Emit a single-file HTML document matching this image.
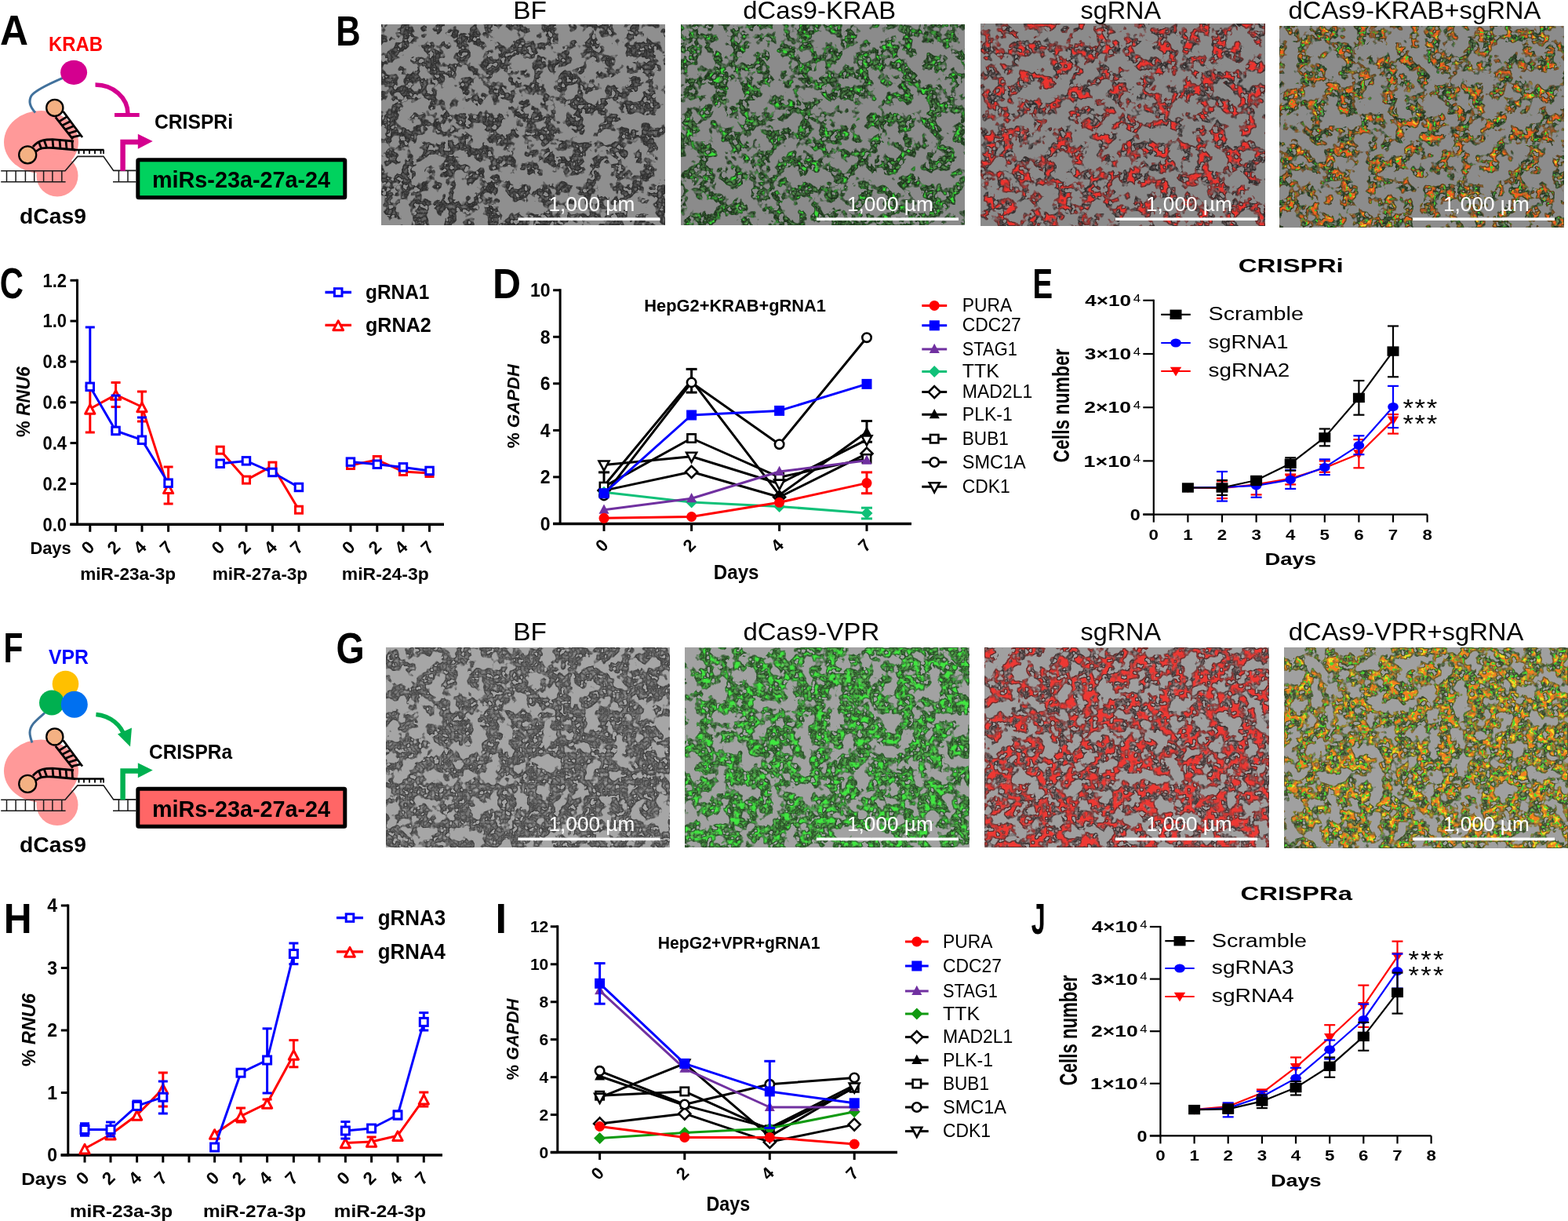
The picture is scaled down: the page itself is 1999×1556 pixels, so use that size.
<!DOCTYPE html>
<html><head><meta charset="utf-8"><style>
html,body{margin:0;padding:0;background:#fff;}
svg{display:block;}
text{font-family:"Liberation Sans", Arial, sans-serif;}
</style></head><body>
<svg width="1999" height="1556" viewBox="0 0 1999 1556">
<defs>
<filter id="m1" x="0" y="0" width="1" height="1" color-interpolation-filters="sRGB">
<feTurbulence type="fractalNoise" baseFrequency="0.055" numOctaves="3" seed="11" result="n10"/>
<feColorMatrix in="n10" type="matrix" values="1 0 0 0 0  0 1 0 0 0  0 0 1 0 0  0 0 0 0 1" result="n1o"/>
<feComposite in="n1o" in2="SourceGraphic" operator="arithmetic" k1="0" k2="1" k3="0.0" k4="-0.0" result="n1"/>
<feColorMatrix in="n1" type="matrix" values="0 0 0 0 0  0 0 0 0 0  0 0 0 0 0  12 0 0 0 -5.640" result="m1"/>
<feTurbulence type="fractalNoise" baseFrequency="0.15" numOctaves="2" seed="12" result="n2"/>
<feColorMatrix in="n2" type="matrix" values="0 0 0 0 0  0 0 0 0 0  0 0 0 0 0  14 0 0 0 -4.900" result="m2"/>
<feComposite in="m2" in2="m1" operator="in" result="m"/>
<feMorphology in="m" operator="erode" radius="1" result="me"/>
<feComposite in="m" in2="me" operator="out" result="edge"/>
<feTurbulence type="turbulence" baseFrequency="0.18" numOctaves="2" seed="18" result="fn"/>
<feColorMatrix in="fn" type="matrix" values="0.450 0 0 0 0.160  0.450 0 0 0 0.160  0.450 0 0 0 0.160  0 0 0 0 1" result="cc"/>
<feComposite in="cc" in2="m" operator="in" result="cells0"/>
<feMerge result="cells"><feMergeNode in="cells0"/></feMerge>
<feFlood flood-color="#2a2a2a" flood-opacity="0.8" result="ecol"/>
<feComposite in="ecol" in2="edge" operator="in" result="edges"/>
<feFlood flood-color="#8f8f8f" result="bg"/>
<feMerge result="all"><feMergeNode in="bg"/><feMergeNode in="cells"/><feMergeNode in="edges"/></feMerge>
<feGaussianBlur in="all" stdDeviation="0.6"/>
</filter>
<filter id="m2" x="0" y="0" width="1" height="1" color-interpolation-filters="sRGB">
<feTurbulence type="fractalNoise" baseFrequency="0.055" numOctaves="3" seed="21" result="n10"/>
<feColorMatrix in="n10" type="matrix" values="1 0 0 0 0  0 1 0 0 0  0 0 1 0 0  0 0 0 0 1" result="n1o"/>
<feComposite in="n1o" in2="SourceGraphic" operator="arithmetic" k1="0" k2="1" k3="0.0" k4="-0.0" result="n1"/>
<feColorMatrix in="n1" type="matrix" values="0 0 0 0 0  0 0 0 0 0  0 0 0 0 0  12 0 0 0 -5.640" result="m1"/>
<feTurbulence type="fractalNoise" baseFrequency="0.15" numOctaves="2" seed="22" result="n2"/>
<feColorMatrix in="n2" type="matrix" values="0 0 0 0 0  0 0 0 0 0  0 0 0 0 0  14 0 0 0 -4.900" result="m2"/>
<feComposite in="m2" in2="m1" operator="in" result="m"/>
<feMorphology in="m" operator="erode" radius="1" result="me"/>
<feComposite in="m" in2="me" operator="out" result="edge"/>
<feTurbulence type="turbulence" baseFrequency="0.18" numOctaves="2" seed="28" result="fn"/>
<feColorMatrix in="fn" type="matrix" values="0.450 0 0 0 0.090  0.750 0 0 0 0.150  0.420 0 0 0 0.084  0 0 0 0 1" result="cc"/>
<feComposite in="cc" in2="m" operator="in" result="cells0"/>
<feTurbulence type="fractalNoise" baseFrequency="0.16" numOctaves="2" seed="24" result="sp0"/>
<feColorMatrix in="sp0" type="matrix" values="0 0 0 0 0.22  0 0 0 0 0.88  0 0 0 0 0.22  7 0 0 0 -3.9" result="spc0"/>
<feComposite in="spc0" in2="m" operator="in" result="s0"/>
<feMerge result="cells"><feMergeNode in="cells0"/><feMergeNode in="s0"/></feMerge>
<feFlood flood-color="#1e3a1e" flood-opacity="0.8" result="ecol"/>
<feComposite in="ecol" in2="edge" operator="in" result="edges"/>
<feFlood flood-color="#8b8b8b" result="bg"/>
<feMerge result="all"><feMergeNode in="bg"/><feMergeNode in="cells"/><feMergeNode in="edges"/></feMerge>
<feGaussianBlur in="all" stdDeviation="0.6"/>
</filter>
<filter id="m3" x="0" y="0" width="1" height="1" color-interpolation-filters="sRGB">
<feTurbulence type="fractalNoise" baseFrequency="0.055" numOctaves="3" seed="31" result="n10"/>
<feColorMatrix in="n10" type="matrix" values="1 0 0 0 0  0 1 0 0 0  0 0 1 0 0  0 0 0 0 1" result="n1o"/>
<feComposite in="n1o" in2="SourceGraphic" operator="arithmetic" k1="0" k2="1" k3="0.0" k4="-0.0" result="n1"/>
<feColorMatrix in="n1" type="matrix" values="0 0 0 0 0  0 0 0 0 0  0 0 0 0 0  12 0 0 0 -5.640" result="m1"/>
<feTurbulence type="fractalNoise" baseFrequency="0.15" numOctaves="2" seed="32" result="n2"/>
<feColorMatrix in="n2" type="matrix" values="0 0 0 0 0  0 0 0 0 0  0 0 0 0 0  14 0 0 0 -4.900" result="m2"/>
<feComposite in="m2" in2="m1" operator="in" result="m"/>
<feMorphology in="m" operator="erode" radius="1" result="me"/>
<feComposite in="m" in2="me" operator="out" result="edge"/>
<feTurbulence type="turbulence" baseFrequency="0.18" numOctaves="2" seed="38" result="fn"/>
<feColorMatrix in="fn" type="matrix" values="0.770 0 0 0 0.154  0.665 0 0 0 0.133  0.665 0 0 0 0.133  0 0 0 0 1" result="cc"/>
<feComposite in="cc" in2="m" operator="in" result="cells0"/>
<feTurbulence type="fractalNoise" baseFrequency="0.1" numOctaves="2" seed="34" result="sp0"/>
<feColorMatrix in="sp0" type="matrix" values="0 0 0 0 0.93  0 0 0 0 0.2  0 0 0 0 0.18  6 0 0 0 -2.35" result="spc0"/>
<feComposite in="spc0" in2="m" operator="in" result="s0"/>
<feMerge result="cells"><feMergeNode in="cells0"/><feMergeNode in="s0"/></feMerge>
<feFlood flood-color="#2a2a2a" flood-opacity="0.8" result="ecol"/>
<feComposite in="ecol" in2="edge" operator="in" result="edges"/>
<feFlood flood-color="#8b8b8b" result="bg"/>
<feMerge result="all"><feMergeNode in="bg"/><feMergeNode in="cells"/><feMergeNode in="edges"/></feMerge>
<feGaussianBlur in="all" stdDeviation="0.6"/>
</filter>
<filter id="m4" x="0" y="0" width="1" height="1" color-interpolation-filters="sRGB">
<feTurbulence type="fractalNoise" baseFrequency="0.055" numOctaves="3" seed="41" result="n10"/>
<feColorMatrix in="n10" type="matrix" values="1 0 0 0 0  0 1 0 0 0  0 0 1 0 0  0 0 0 0 1" result="n1o"/>
<feComposite in="n1o" in2="SourceGraphic" operator="arithmetic" k1="0" k2="1" k3="0.0" k4="-0.0" result="n1"/>
<feColorMatrix in="n1" type="matrix" values="0 0 0 0 0  0 0 0 0 0  0 0 0 0 0  12 0 0 0 -5.640" result="m1"/>
<feTurbulence type="fractalNoise" baseFrequency="0.15" numOctaves="2" seed="42" result="n2"/>
<feColorMatrix in="n2" type="matrix" values="0 0 0 0 0  0 0 0 0 0  0 0 0 0 0  14 0 0 0 -4.900" result="m2"/>
<feComposite in="m2" in2="m1" operator="in" result="m"/>
<feMorphology in="m" operator="erode" radius="1" result="me"/>
<feComposite in="m" in2="me" operator="out" result="edge"/>
<feTurbulence type="turbulence" baseFrequency="0.18" numOctaves="2" seed="48" result="fn"/>
<feColorMatrix in="fn" type="matrix" values="0.510 0 0 0 0.111  0.690 0 0 0 0.149  0.450 0 0 0 0.098  0 0 0 0 1" result="cc"/>
<feComposite in="cc" in2="m" operator="in" result="cells0"/>
<feTurbulence type="fractalNoise" baseFrequency="0.11" numOctaves="2" seed="44" result="sp0"/>
<feColorMatrix in="sp0" type="matrix" values="0 0 0 0 0.95  0 0 0 0 0.38  0 0 0 0 0.12  6 0 0 0 -2.45" result="spc0"/>
<feComposite in="spc0" in2="m" operator="in" result="s0"/>
<feTurbulence type="fractalNoise" baseFrequency="0.2" numOctaves="2" seed="49" result="sp1"/>
<feColorMatrix in="sp1" type="matrix" values="0 0 0 0 0.92  0 0 0 0 0.8  0 0 0 0 0.15  9 0 0 0 -5.3" result="spc1"/>
<feComposite in="spc1" in2="s0" operator="in" result="s1"/>
<feTurbulence type="fractalNoise" baseFrequency="0.25" numOctaves="2" seed="54" result="sp2"/>
<feColorMatrix in="sp2" type="matrix" values="0 0 0 0 0.25  0 0 0 0 0.85  0 0 0 0 0.2  9 0 0 0 -5.5" result="spc2"/>
<feComposite in="spc2" in2="m" operator="in" result="s2"/>
<feMerge result="cells"><feMergeNode in="cells0"/><feMergeNode in="s0"/><feMergeNode in="s1"/><feMergeNode in="s2"/></feMerge>
<feFlood flood-color="#263a22" flood-opacity="0.8" result="ecol"/>
<feComposite in="ecol" in2="edge" operator="in" result="edges"/>
<feFlood flood-color="#8c8c8c" result="bg"/>
<feMerge result="all"><feMergeNode in="bg"/><feMergeNode in="cells"/><feMergeNode in="edges"/></feMerge>
<feGaussianBlur in="all" stdDeviation="0.6"/>
</filter>
<filter id="m5" x="0" y="0" width="1" height="1" color-interpolation-filters="sRGB">
<feTurbulence type="fractalNoise" baseFrequency="0.055" numOctaves="3" seed="51" result="n10"/>
<feColorMatrix in="n10" type="matrix" values="1 0 0 0 0  0 1 0 0 0  0 0 1 0 0  0 0 0 0 1" result="n1o"/>
<feComposite in="n1o" in2="SourceGraphic" operator="arithmetic" k1="0" k2="1" k3="0.3" k4="-0.15" result="n1"/>
<feColorMatrix in="n1" type="matrix" values="0 0 0 0 0  0 0 0 0 0  0 0 0 0 0  12 0 0 0 -5.040" result="m1"/>
<feTurbulence type="fractalNoise" baseFrequency="0.15" numOctaves="2" seed="52" result="n2"/>
<feColorMatrix in="n2" type="matrix" values="0 0 0 0 0  0 0 0 0 0  0 0 0 0 0  14 0 0 0 -4.340" result="m2"/>
<feComposite in="m2" in2="m1" operator="in" result="m"/>
<feMorphology in="m" operator="erode" radius="1" result="me"/>
<feComposite in="m" in2="me" operator="out" result="edge"/>
<feTurbulence type="turbulence" baseFrequency="0.2" numOctaves="2" seed="58" result="fn"/>
<feColorMatrix in="fn" type="matrix" values="0.500 0 0 0 0.270  0.500 0 0 0 0.270  0.500 0 0 0 0.270  0 0 0 0 1" result="cc"/>
<feComposite in="cc" in2="m" operator="in" result="cells0"/>
<feMerge result="cells"><feMergeNode in="cells0"/></feMerge>
<feFlood flood-color="#3a3a3a" flood-opacity="0.8" result="ecol"/>
<feComposite in="ecol" in2="edge" operator="in" result="edges"/>
<feFlood flood-color="#a6a6a6" result="bg"/>
<feMerge result="all"><feMergeNode in="bg"/><feMergeNode in="cells"/><feMergeNode in="edges"/></feMerge>
<feGaussianBlur in="all" stdDeviation="0.6"/>
</filter>
<linearGradient id="gm5" x1="0" y1="0" x2="1" y2="0.4"><stop offset="0" stop-color="rgb(76,76,76)"/><stop offset="0.35" stop-color="rgb(127,127,127)"/><stop offset="1" stop-color="rgb(153,153,153)"/></linearGradient>
<filter id="m6" x="0" y="0" width="1" height="1" color-interpolation-filters="sRGB">
<feTurbulence type="fractalNoise" baseFrequency="0.055" numOctaves="3" seed="61" result="n10"/>
<feColorMatrix in="n10" type="matrix" values="1 0 0 0 0  0 1 0 0 0  0 0 1 0 0  0 0 0 0 1" result="n1o"/>
<feComposite in="n1o" in2="SourceGraphic" operator="arithmetic" k1="0" k2="1" k3="0.3" k4="-0.15" result="n1"/>
<feColorMatrix in="n1" type="matrix" values="0 0 0 0 0  0 0 0 0 0  0 0 0 0 0  12 0 0 0 -5.040" result="m1"/>
<feTurbulence type="fractalNoise" baseFrequency="0.15" numOctaves="2" seed="62" result="n2"/>
<feColorMatrix in="n2" type="matrix" values="0 0 0 0 0  0 0 0 0 0  0 0 0 0 0  14 0 0 0 -4.340" result="m2"/>
<feComposite in="m2" in2="m1" operator="in" result="m"/>
<feMorphology in="m" operator="erode" radius="1" result="me"/>
<feComposite in="m" in2="me" operator="out" result="edge"/>
<feTurbulence type="turbulence" baseFrequency="0.2" numOctaves="2" seed="68" result="fn"/>
<feColorMatrix in="fn" type="matrix" values="0.420 0 0 0 0.140  0.810 0 0 0 0.270  0.390 0 0 0 0.130  0 0 0 0 1" result="cc"/>
<feComposite in="cc" in2="m" operator="in" result="cells0"/>
<feTurbulence type="fractalNoise" baseFrequency="0.14" numOctaves="2" seed="64" result="sp0"/>
<feColorMatrix in="sp0" type="matrix" values="0 0 0 0 0.25  0 0 0 0 0.9  0 0 0 0 0.25  6 0 0 0 -2.9" result="spc0"/>
<feComposite in="spc0" in2="m" operator="in" result="s0"/>
<feMerge result="cells"><feMergeNode in="cells0"/><feMergeNode in="s0"/></feMerge>
<feFlood flood-color="#2a4a2a" flood-opacity="0.8" result="ecol"/>
<feComposite in="ecol" in2="edge" operator="in" result="edges"/>
<feFlood flood-color="#a2a2a2" result="bg"/>
<feMerge result="all"><feMergeNode in="bg"/><feMergeNode in="cells"/><feMergeNode in="edges"/></feMerge>
<feGaussianBlur in="all" stdDeviation="0.6"/>
</filter>
<linearGradient id="gm6" x1="0" y1="0" x2="1" y2="0.4"><stop offset="0" stop-color="rgb(89,89,89)"/><stop offset="0.4" stop-color="rgb(140,140,140)"/><stop offset="1" stop-color="rgb(140,140,140)"/></linearGradient>
<filter id="m7" x="0" y="0" width="1" height="1" color-interpolation-filters="sRGB">
<feTurbulence type="fractalNoise" baseFrequency="0.055" numOctaves="3" seed="71" result="n10"/>
<feColorMatrix in="n10" type="matrix" values="1 0 0 0 0  0 1 0 0 0  0 0 1 0 0  0 0 0 0 1" result="n1o"/>
<feComposite in="n1o" in2="SourceGraphic" operator="arithmetic" k1="0" k2="1" k3="0.3" k4="-0.15" result="n1"/>
<feColorMatrix in="n1" type="matrix" values="0 0 0 0 0  0 0 0 0 0  0 0 0 0 0  12 0 0 0 -5.040" result="m1"/>
<feTurbulence type="fractalNoise" baseFrequency="0.15" numOctaves="2" seed="72" result="n2"/>
<feColorMatrix in="n2" type="matrix" values="0 0 0 0 0  0 0 0 0 0  0 0 0 0 0  14 0 0 0 -4.340" result="m2"/>
<feComposite in="m2" in2="m1" operator="in" result="m"/>
<feMorphology in="m" operator="erode" radius="1" result="me"/>
<feComposite in="m" in2="me" operator="out" result="edge"/>
<feTurbulence type="turbulence" baseFrequency="0.2" numOctaves="2" seed="78" result="fn"/>
<feColorMatrix in="fn" type="matrix" values="0.770 0 0 0 0.220  0.665 0 0 0 0.190  0.665 0 0 0 0.190  0 0 0 0 1" result="cc"/>
<feComposite in="cc" in2="m" operator="in" result="cells0"/>
<feTurbulence type="fractalNoise" baseFrequency="0.1" numOctaves="2" seed="74" result="sp0"/>
<feColorMatrix in="sp0" type="matrix" values="0 0 0 0 0.93  0 0 0 0 0.22  0 0 0 0 0.2  6 0 0 0 -2.3" result="spc0"/>
<feComposite in="spc0" in2="m" operator="in" result="s0"/>
<feMerge result="cells"><feMergeNode in="cells0"/><feMergeNode in="s0"/></feMerge>
<feFlood flood-color="#3a2a2a" flood-opacity="0.8" result="ecol"/>
<feComposite in="ecol" in2="edge" operator="in" result="edges"/>
<feFlood flood-color="#a0a0a0" result="bg"/>
<feMerge result="all"><feMergeNode in="bg"/><feMergeNode in="cells"/><feMergeNode in="edges"/></feMerge>
<feGaussianBlur in="all" stdDeviation="0.6"/>
</filter>
<linearGradient id="gm7" x1="0" y1="0" x2="1" y2="0.4"><stop offset="0" stop-color="rgb(89,89,89)"/><stop offset="0.4" stop-color="rgb(140,140,140)"/><stop offset="1" stop-color="rgb(140,140,140)"/></linearGradient>
<filter id="m8" x="0" y="0" width="1" height="1" color-interpolation-filters="sRGB">
<feTurbulence type="fractalNoise" baseFrequency="0.055" numOctaves="3" seed="81" result="n10"/>
<feColorMatrix in="n10" type="matrix" values="1 0 0 0 0  0 1 0 0 0  0 0 1 0 0  0 0 0 0 1" result="n1o"/>
<feComposite in="n1o" in2="SourceGraphic" operator="arithmetic" k1="0" k2="1" k3="0.3" k4="-0.15" result="n1"/>
<feColorMatrix in="n1" type="matrix" values="0 0 0 0 0  0 0 0 0 0  0 0 0 0 0  12 0 0 0 -5.040" result="m1"/>
<feTurbulence type="fractalNoise" baseFrequency="0.15" numOctaves="2" seed="82" result="n2"/>
<feColorMatrix in="n2" type="matrix" values="0 0 0 0 0  0 0 0 0 0  0 0 0 0 0  14 0 0 0 -4.340" result="m2"/>
<feComposite in="m2" in2="m1" operator="in" result="m"/>
<feMorphology in="m" operator="erode" radius="1" result="me"/>
<feComposite in="m" in2="me" operator="out" result="edge"/>
<feTurbulence type="turbulence" baseFrequency="0.2" numOctaves="2" seed="88" result="fn"/>
<feColorMatrix in="fn" type="matrix" values="0.540 0 0 0 0.180  0.660 0 0 0 0.220  0.420 0 0 0 0.140  0 0 0 0 1" result="cc"/>
<feComposite in="cc" in2="m" operator="in" result="cells0"/>
<feTurbulence type="fractalNoise" baseFrequency="0.11" numOctaves="2" seed="84" result="sp0"/>
<feColorMatrix in="sp0" type="matrix" values="0 0 0 0 0.95  0 0 0 0 0.5  0 0 0 0 0.12  6 0 0 0 -2.5" result="spc0"/>
<feComposite in="spc0" in2="m" operator="in" result="s0"/>
<feTurbulence type="fractalNoise" baseFrequency="0.18" numOctaves="2" seed="89" result="sp1"/>
<feColorMatrix in="sp1" type="matrix" values="0 0 0 0 0.95  0 0 0 0 0.88  0 0 0 0 0.15  7 0 0 0 -3.6" result="spc1"/>
<feComposite in="spc1" in2="s0" operator="in" result="s1"/>
<feTurbulence type="fractalNoise" baseFrequency="0.25" numOctaves="2" seed="94" result="sp2"/>
<feColorMatrix in="sp2" type="matrix" values="0 0 0 0 0.3  0 0 0 0 0.85  0 0 0 0 0.2  9 0 0 0 -5.2" result="spc2"/>
<feComposite in="spc2" in2="m" operator="in" result="s2"/>
<feMerge result="cells"><feMergeNode in="cells0"/><feMergeNode in="s0"/><feMergeNode in="s1"/><feMergeNode in="s2"/></feMerge>
<feFlood flood-color="#3a4a2a" flood-opacity="0.8" result="ecol"/>
<feComposite in="ecol" in2="edge" operator="in" result="edges"/>
<feFlood flood-color="#a0a0a0" result="bg"/>
<feMerge result="all"><feMergeNode in="bg"/><feMergeNode in="cells"/><feMergeNode in="edges"/></feMerge>
<feGaussianBlur in="all" stdDeviation="0.6"/>
</filter>
<linearGradient id="gm8" x1="0" y1="0" x2="1" y2="0.4"><stop offset="0" stop-color="rgb(76,76,76)"/><stop offset="0.4" stop-color="rgb(140,140,140)"/><stop offset="1" stop-color="rgb(153,153,153)"/></linearGradient>
</defs>
<rect width="1999" height="1556" fill="#fff"/>
<text x="-0.08" y="56.90" font-size="53.76" font-weight="bold" textLength="36.03" lengthAdjust="spacingAndGlyphs" >A</text>
<text x="428.28" y="58.00" font-size="53.48" font-weight="bold" textLength="31.43" lengthAdjust="spacingAndGlyphs" >B</text>
<text x="4.45" y="844.00" font-size="54.04" font-weight="bold" textLength="24.88" lengthAdjust="spacingAndGlyphs" >F</text>
<text x="428.55" y="845.00" font-size="55.47" font-weight="bold" textLength="36.20" lengthAdjust="spacingAndGlyphs" >G</text>
<ellipse cx="52.5" cy="181.0" rx="47.5" ry="40" fill="#ff9999"/>
<circle cx="73" cy="224.0" r="26.5" fill="#ff9999"/>
<path d="M1.2,217.7 H83 L98.9,199.4 H131.9 L144.7,217.4 H173.4" fill="none" stroke="#1a1a1a" stroke-width="1.6"/>
<path d="M1.2,231.8 H83.6 M144,231.8 H173.4" fill="none" stroke="#1a1a1a" stroke-width="1.6"/>
<line x1="8.5" y1="217.7" x2="8.5" y2="231.8" stroke="#1a1a1a" stroke-width="1.5" />
<line x1="20.1" y1="217.7" x2="20.1" y2="231.8" stroke="#1a1a1a" stroke-width="1.5" />
<line x1="32.4" y1="217.7" x2="32.4" y2="231.8" stroke="#1a1a1a" stroke-width="1.5" />
<line x1="43.7" y1="217.7" x2="43.7" y2="231.8" stroke="#1a1a1a" stroke-width="1.5" />
<line x1="55.6" y1="217.7" x2="55.6" y2="231.8" stroke="#1a1a1a" stroke-width="1.5" />
<line x1="66.9" y1="217.7" x2="66.9" y2="231.8" stroke="#1a1a1a" stroke-width="1.5" />
<line x1="78.8" y1="217.7" x2="78.8" y2="231.8" stroke="#1a1a1a" stroke-width="1.5" />
<line x1="151.4" y1="217.7" x2="151.4" y2="231.8" stroke="#1a1a1a" stroke-width="1.5" />
<line x1="163.0" y1="217.7" x2="163.0" y2="231.8" stroke="#1a1a1a" stroke-width="1.5" />
<path d="M94,191.0 H132.5" stroke="#000" stroke-width="2.6" fill="none"/>
<line x1="100.5" y1="191.0" x2="100.5" y2="196.0" stroke="#000" stroke-width="1.8" />
<line x1="107.0" y1="191.0" x2="107.0" y2="196.0" stroke="#000" stroke-width="1.8" />
<line x1="114.0" y1="191.0" x2="114.0" y2="196.0" stroke="#000" stroke-width="1.8" />
<line x1="121.0" y1="191.0" x2="121.0" y2="196.0" stroke="#000" stroke-width="1.8" />
<line x1="128.5" y1="191.0" x2="128.5" y2="196.0" stroke="#000" stroke-width="1.8" />
<line x1="132.0" y1="191.0" x2="132.0" y2="196.0" stroke="#000" stroke-width="1.8" />
<path d="M42,187.0 C50,178.0 58,177.5 70,177.8 L94,180.0" fill="none" stroke="#000" stroke-width="2.8"/>
<path d="M46,193.0 C52,187.0 58,188.5 68,188.5 L96,191.0" fill="none" stroke="#000" stroke-width="2.8"/>
<line x1="49.0" y1="180.0" x2="53.0" y2="190.0" stroke="#000" stroke-width="2.8" />
<line x1="56.0" y1="178.0" x2="60.0" y2="189.0" stroke="#000" stroke-width="2.8" />
<line x1="67.0" y1="178.0" x2="68.0" y2="189.0" stroke="#000" stroke-width="2.8" />
<line x1="76.0" y1="178.5" x2="77.0" y2="189.5" stroke="#000" stroke-width="2.8" />
<line x1="84.0" y1="179.0" x2="85.0" y2="190.0" stroke="#000" stroke-width="2.8" />
<line x1="92.0" y1="180.0" x2="92.5" y2="191.0" stroke="#000" stroke-width="2.8" />
<path d="M70.8,149.4 L92.8,177.4" stroke="#000" stroke-width="2.8"/>
<path d="M80.6,142.0 L105,175.0" stroke="#000" stroke-width="2.8"/>
<line x1="75.2" y1="155.0" x2="85.5" y2="148.6" stroke="#000" stroke-width="2.8" />
<line x1="79.2" y1="160.0" x2="89.9" y2="154.5" stroke="#000" stroke-width="2.8" />
<line x1="83.1" y1="165.1" x2="94.3" y2="160.5" stroke="#000" stroke-width="2.8" />
<line x1="87.1" y1="170.1" x2="98.7" y2="166.4" stroke="#000" stroke-width="2.8" />
<line x1="91.0" y1="175.2" x2="103.0" y2="172.4" stroke="#000" stroke-width="2.8" />
<circle cx="69.8" cy="137.4" r="10.6" fill="#f4b183" stroke="#000" stroke-width="2.3"/>
<circle cx="35.2" cy="197.4" r="11" fill="#f4b183" stroke="#000" stroke-width="2.3"/>
<path d="M80,99.3 C62,107.0 44,116.0 40,122.0 C36,129.0 38,136.0 45,143.5" fill="none" stroke="#41719c" stroke-width="3"/>
<ellipse cx="94.1" cy="92.3" rx="17" ry="15.6" fill="#d4008f"/>
<path d="M121.5,108.0 A41.5,37 0 0 1 163,145.0" fill="none" stroke="#d4008f" stroke-width="5.5"/>
<rect x="146" y="144.0" width="31.7" height="5" fill="#d4008f"/>
<text x="62.0" y="65.0" font-size="25" font-weight="bold" fill="#ff0000" textLength="69.0" lengthAdjust="spacingAndGlyphs" >KRAB</text>
<text x="197.0" y="164.0" font-size="26" font-weight="bold" textLength="100.0" lengthAdjust="spacingAndGlyphs" >CRISPRi</text>
<path d="M156.6,217.7 V181.0 H177" fill="none" stroke="#d4008f" stroke-width="6.5"/>
<path d="M175.8,170.7 L194.7,179.9 L175.8,189.7 Z" fill="#d4008f"/>
<rect x="175.8" y="203.7" width="264" height="48" fill="#00d25e" stroke="#000" stroke-width="5" rx="1"/>
<text x="194.0" y="239.0" font-size="30" font-weight="bold" textLength="227.0" lengthAdjust="spacingAndGlyphs" >miRs-23a-27a-24</text>
<text x="25.0" y="284.5" font-size="28" font-weight="bold" textLength="85.0" lengthAdjust="spacingAndGlyphs" >dCas9</text>
<ellipse cx="52.5" cy="982.5" rx="47.5" ry="40" fill="#ff9999"/>
<circle cx="73" cy="1025.5" r="26.5" fill="#ff9999"/>
<path d="M1.2,1019.2 H83 L98.9,1000.9 H131.9 L144.7,1018.9 H173.4" fill="none" stroke="#1a1a1a" stroke-width="1.6"/>
<path d="M1.2,1033.3 H83.6 M144,1033.3 H173.4" fill="none" stroke="#1a1a1a" stroke-width="1.6"/>
<line x1="8.5" y1="1019.2" x2="8.5" y2="1033.3" stroke="#1a1a1a" stroke-width="1.5" />
<line x1="20.1" y1="1019.2" x2="20.1" y2="1033.3" stroke="#1a1a1a" stroke-width="1.5" />
<line x1="32.4" y1="1019.2" x2="32.4" y2="1033.3" stroke="#1a1a1a" stroke-width="1.5" />
<line x1="43.7" y1="1019.2" x2="43.7" y2="1033.3" stroke="#1a1a1a" stroke-width="1.5" />
<line x1="55.6" y1="1019.2" x2="55.6" y2="1033.3" stroke="#1a1a1a" stroke-width="1.5" />
<line x1="66.9" y1="1019.2" x2="66.9" y2="1033.3" stroke="#1a1a1a" stroke-width="1.5" />
<line x1="78.8" y1="1019.2" x2="78.8" y2="1033.3" stroke="#1a1a1a" stroke-width="1.5" />
<line x1="151.4" y1="1019.2" x2="151.4" y2="1033.3" stroke="#1a1a1a" stroke-width="1.5" />
<line x1="163.0" y1="1019.2" x2="163.0" y2="1033.3" stroke="#1a1a1a" stroke-width="1.5" />
<path d="M94,992.5 H132.5" stroke="#000" stroke-width="2.6" fill="none"/>
<line x1="100.5" y1="992.5" x2="100.5" y2="997.5" stroke="#000" stroke-width="1.8" />
<line x1="107.0" y1="992.5" x2="107.0" y2="997.5" stroke="#000" stroke-width="1.8" />
<line x1="114.0" y1="992.5" x2="114.0" y2="997.5" stroke="#000" stroke-width="1.8" />
<line x1="121.0" y1="992.5" x2="121.0" y2="997.5" stroke="#000" stroke-width="1.8" />
<line x1="128.5" y1="992.5" x2="128.5" y2="997.5" stroke="#000" stroke-width="1.8" />
<line x1="132.0" y1="992.5" x2="132.0" y2="997.5" stroke="#000" stroke-width="1.8" />
<path d="M42,988.5 C50,979.5 58,979.0 70,979.3 L94,981.5" fill="none" stroke="#000" stroke-width="2.8"/>
<path d="M46,994.5 C52,988.5 58,990.0 68,990.0 L96,992.5" fill="none" stroke="#000" stroke-width="2.8"/>
<line x1="49.0" y1="981.5" x2="53.0" y2="991.5" stroke="#000" stroke-width="2.8" />
<line x1="56.0" y1="979.5" x2="60.0" y2="990.5" stroke="#000" stroke-width="2.8" />
<line x1="67.0" y1="979.5" x2="68.0" y2="990.5" stroke="#000" stroke-width="2.8" />
<line x1="76.0" y1="980.0" x2="77.0" y2="991.0" stroke="#000" stroke-width="2.8" />
<line x1="84.0" y1="980.5" x2="85.0" y2="991.5" stroke="#000" stroke-width="2.8" />
<line x1="92.0" y1="981.5" x2="92.5" y2="992.5" stroke="#000" stroke-width="2.8" />
<path d="M70.8,950.9 L92.8,978.9" stroke="#000" stroke-width="2.8"/>
<path d="M80.6,943.5 L105,976.5" stroke="#000" stroke-width="2.8"/>
<line x1="75.2" y1="956.5" x2="85.5" y2="950.1" stroke="#000" stroke-width="2.8" />
<line x1="79.2" y1="961.5" x2="89.9" y2="956.0" stroke="#000" stroke-width="2.8" />
<line x1="83.1" y1="966.6" x2="94.3" y2="962.0" stroke="#000" stroke-width="2.8" />
<line x1="87.1" y1="971.6" x2="98.7" y2="967.9" stroke="#000" stroke-width="2.8" />
<line x1="91.0" y1="976.7" x2="103.0" y2="973.9" stroke="#000" stroke-width="2.8" />
<circle cx="69.8" cy="938.9" r="10.6" fill="#f4b183" stroke="#000" stroke-width="2.3"/>
<circle cx="35.2" cy="998.9" r="11" fill="#f4b183" stroke="#000" stroke-width="2.3"/>
<path d="M57,1709.5" />
<path d="M57,908.5 C48,916.5 38,923.5 38,933.5 C38,938.5 40,943.5 41,946.5" fill="none" stroke="#41719c" stroke-width="3"/>
<circle cx="83.5" cy="871.5" r="16.8" fill="#ffc000"/>
<circle cx="66" cy="895.5" r="16" fill="#00b050"/>
<circle cx="94.8" cy="897.7" r="17" fill="#0070f0"/>
<path d="M122.4,910.5 A42,38 0 0 1 159,939.5" fill="none" stroke="#00b050" stroke-width="5.5"/>
<path d="M150,935.5 L168,927.5 L166,951.5 Z" fill="#00b050"/>
<text x="62.0" y="845.5" font-size="25" font-weight="bold" fill="#0000ff" textLength="51.0" lengthAdjust="spacingAndGlyphs" >VPR</text>
<text x="190.0" y="966.5" font-size="26" font-weight="bold" textLength="106.0" lengthAdjust="spacingAndGlyphs" >CRISPRa</text>
<path d="M156.6,1019.2 V982.5 H177" fill="none" stroke="#00b050" stroke-width="6.5"/>
<path d="M175.8,972.2 L194.7,981.4 L175.8,991.2 Z" fill="#00b050"/>
<rect x="175.8" y="1005.2" width="264" height="48" fill="#ff6666" stroke="#000" stroke-width="5" rx="1"/>
<text x="194.0" y="1040.5" font-size="30" font-weight="bold" textLength="227.0" lengthAdjust="spacingAndGlyphs" >miRs-23a-27a-24</text>
<text x="25.0" y="1086.0" font-size="28" font-weight="bold" textLength="85.0" lengthAdjust="spacingAndGlyphs" >dCas9</text>
<rect x="486" y="31.2" width="362.0" height="255.6" fill="#808080" filter="url(#m1)"/>
<rect x="660.5" y="277.4" width="181" height="3.6" fill="#fff"/>
<text x="699.46" y="268.60" font-size="25.60" fill="#fff" textLength="109.79" lengthAdjust="spacingAndGlyphs" >1,000 µm</text>
<rect x="868" y="31.2" width="361.7" height="255.6" fill="#808080" filter="url(#m2)"/>
<rect x="1041.0" y="277.4" width="181" height="3.6" fill="#fff"/>
<text x="1079.96" y="268.60" font-size="25.60" fill="#fff" textLength="109.79" lengthAdjust="spacingAndGlyphs" >1,000 µm</text>
<rect x="1250" y="30.8" width="362.7" height="256.9" fill="#808080" filter="url(#m3)"/>
<rect x="1422.0" y="277.4" width="181" height="3.6" fill="#fff"/>
<text x="1460.96" y="268.60" font-size="25.60" fill="#fff" textLength="109.79" lengthAdjust="spacingAndGlyphs" >1,000 µm</text>
<rect x="1631.1" y="33.5" width="362.9" height="256.2" fill="#808080" filter="url(#m4)"/>
<rect x="1801.0" y="277.4" width="181" height="3.6" fill="#fff"/>
<text x="1839.96" y="268.60" font-size="25.60" fill="#fff" textLength="109.79" lengthAdjust="spacingAndGlyphs" >1,000 µm</text>
<rect x="492" y="825.6" width="361.7" height="254.1" fill="url(#gm5)" filter="url(#m5)"/>
<rect x="660.5" y="1067.5" width="181" height="3.6" fill="#fff"/>
<text x="699.46" y="1058.70" font-size="25.60" fill="#fff" textLength="109.79" lengthAdjust="spacingAndGlyphs" >1,000 µm</text>
<rect x="873" y="825.6" width="362.4" height="254.1" fill="url(#gm6)" filter="url(#m6)"/>
<rect x="1041.0" y="1067.5" width="181" height="3.6" fill="#fff"/>
<text x="1079.96" y="1058.70" font-size="25.60" fill="#fff" textLength="109.79" lengthAdjust="spacingAndGlyphs" >1,000 µm</text>
<rect x="1255" y="825.6" width="362.7" height="254.4" fill="url(#gm7)" filter="url(#m7)"/>
<rect x="1422.0" y="1067.5" width="181" height="3.6" fill="#fff"/>
<text x="1460.96" y="1058.70" font-size="25.60" fill="#fff" textLength="109.79" lengthAdjust="spacingAndGlyphs" >1,000 µm</text>
<rect x="1637" y="825.6" width="362.0" height="255.2" fill="url(#gm8)" filter="url(#m8)"/>
<rect x="1801.0" y="1067.5" width="181" height="3.6" fill="#fff"/>
<text x="1839.96" y="1058.70" font-size="25.60" fill="#fff" textLength="109.79" lengthAdjust="spacingAndGlyphs" >1,000 µm</text>
<text x="654.29" y="23.90" font-size="30.50" textLength="42.70" lengthAdjust="spacingAndGlyphs" >BF</text>
<text x="947.28" y="23.90" font-size="30.50" textLength="194.90" lengthAdjust="spacingAndGlyphs" >dCas9-KRAB</text>
<text x="1377.49" y="23.90" font-size="30.50" textLength="102.65" lengthAdjust="spacingAndGlyphs" >sgRNA</text>
<text x="1642.47" y="23.90" font-size="30.50" textLength="321.97" lengthAdjust="spacingAndGlyphs" >dCAs9-KRAB+sgRNA</text>
<text x="654.29" y="816.30" font-size="30.50" textLength="42.70" lengthAdjust="spacingAndGlyphs" >BF</text>
<text x="947.47" y="816.30" font-size="30.50" textLength="173.87" lengthAdjust="spacingAndGlyphs" >dCas9-VPR</text>
<text x="1377.49" y="816.30" font-size="30.50" textLength="102.65" lengthAdjust="spacingAndGlyphs" >sgRNA</text>
<text x="1642.78" y="816.30" font-size="30.50" textLength="299.56" lengthAdjust="spacingAndGlyphs" >dCAs9-VPR+sgRNA</text>
<line x1="98.5" y1="355.8" x2="98.5" y2="669.8" stroke="#000" stroke-width="3" />
<line x1="89.5" y1="668.3" x2="98.5" y2="668.3" stroke="#000" stroke-width="3" />
<text x="85.0" y="676.5" font-size="23" font-weight="bold" text-anchor="end" textLength="30.5" lengthAdjust="spacingAndGlyphs" >0.0</text>
<line x1="89.5" y1="616.5" x2="98.5" y2="616.5" stroke="#000" stroke-width="3" />
<text x="85.0" y="624.7" font-size="23" font-weight="bold" text-anchor="end" textLength="30.5" lengthAdjust="spacingAndGlyphs" >0.2</text>
<line x1="89.5" y1="564.6" x2="98.5" y2="564.6" stroke="#000" stroke-width="3" />
<text x="85.0" y="572.9" font-size="23" font-weight="bold" text-anchor="end" textLength="30.5" lengthAdjust="spacingAndGlyphs" >0.4</text>
<line x1="89.5" y1="512.8" x2="98.5" y2="512.8" stroke="#000" stroke-width="3" />
<text x="85.0" y="521.0" font-size="23" font-weight="bold" text-anchor="end" textLength="30.5" lengthAdjust="spacingAndGlyphs" >0.6</text>
<line x1="89.5" y1="460.9" x2="98.5" y2="460.9" stroke="#000" stroke-width="3" />
<text x="85.0" y="469.2" font-size="23" font-weight="bold" text-anchor="end" textLength="30.5" lengthAdjust="spacingAndGlyphs" >0.8</text>
<line x1="89.5" y1="409.1" x2="98.5" y2="409.1" stroke="#000" stroke-width="3" />
<text x="85.0" y="417.3" font-size="23" font-weight="bold" text-anchor="end" textLength="30.5" lengthAdjust="spacingAndGlyphs" >1.0</text>
<line x1="89.5" y1="357.3" x2="98.5" y2="357.3" stroke="#000" stroke-width="3" />
<text x="85.0" y="365.5" font-size="23" font-weight="bold" text-anchor="end" textLength="30.5" lengthAdjust="spacingAndGlyphs" >1.2</text>
<line x1="89.3" y1="668.3" x2="566.0" y2="668.3" stroke="#000" stroke-width="3.5" />
<line x1="114.8" y1="668.3" x2="114.8" y2="677.8" stroke="#000" stroke-width="3" />
<line x1="147.6" y1="668.3" x2="147.6" y2="677.8" stroke="#000" stroke-width="3" />
<line x1="181.0" y1="668.3" x2="181.0" y2="677.8" stroke="#000" stroke-width="3" />
<line x1="214.6" y1="668.3" x2="214.6" y2="677.8" stroke="#000" stroke-width="3" />
<line x1="280.7" y1="668.3" x2="280.7" y2="677.8" stroke="#000" stroke-width="3" />
<line x1="314.0" y1="668.3" x2="314.0" y2="677.8" stroke="#000" stroke-width="3" />
<line x1="347.4" y1="668.3" x2="347.4" y2="677.8" stroke="#000" stroke-width="3" />
<line x1="381.0" y1="668.3" x2="381.0" y2="677.8" stroke="#000" stroke-width="3" />
<line x1="447.0" y1="668.3" x2="447.0" y2="677.8" stroke="#000" stroke-width="3" />
<line x1="480.8" y1="668.3" x2="480.8" y2="677.8" stroke="#000" stroke-width="3" />
<line x1="514.0" y1="668.3" x2="514.0" y2="677.8" stroke="#000" stroke-width="3" />
<line x1="547.5" y1="668.3" x2="547.5" y2="677.8" stroke="#000" stroke-width="3" />
<text x="111.8" y="705.4" font-size="22.5" font-weight="bold" text-anchor="middle" transform="rotate(-45 111.8 697.3)">0</text>
<text x="144.6" y="705.4" font-size="22.5" font-weight="bold" text-anchor="middle" transform="rotate(-45 144.6 697.3)">2</text>
<text x="178.0" y="705.4" font-size="22.5" font-weight="bold" text-anchor="middle" transform="rotate(-45 178.0 697.3)">4</text>
<text x="211.6" y="705.4" font-size="22.5" font-weight="bold" text-anchor="middle" transform="rotate(-45 211.6 697.3)">7</text>
<text x="277.7" y="705.4" font-size="22.5" font-weight="bold" text-anchor="middle" transform="rotate(-45 277.7 697.3)">0</text>
<text x="311.0" y="705.4" font-size="22.5" font-weight="bold" text-anchor="middle" transform="rotate(-45 311.0 697.3)">2</text>
<text x="344.4" y="705.4" font-size="22.5" font-weight="bold" text-anchor="middle" transform="rotate(-45 344.4 697.3)">4</text>
<text x="378.0" y="705.4" font-size="22.5" font-weight="bold" text-anchor="middle" transform="rotate(-45 378.0 697.3)">7</text>
<text x="444.0" y="705.4" font-size="22.5" font-weight="bold" text-anchor="middle" transform="rotate(-45 444.0 697.3)">0</text>
<text x="477.8" y="705.4" font-size="22.5" font-weight="bold" text-anchor="middle" transform="rotate(-45 477.8 697.3)">2</text>
<text x="511.0" y="705.4" font-size="22.5" font-weight="bold" text-anchor="middle" transform="rotate(-45 511.0 697.3)">4</text>
<text x="544.5" y="705.4" font-size="22.5" font-weight="bold" text-anchor="middle" transform="rotate(-45 544.5 697.3)">7</text>
<text x="38.43" y="705.80" font-size="22.90" font-weight="bold" textLength="52.25" lengthAdjust="spacingAndGlyphs" >Days</text>
<text x="102.19" y="739.20" font-size="21.24" font-weight="bold" textLength="121.85" lengthAdjust="spacingAndGlyphs" >miR-23a-3p</text>
<text x="270.89" y="739.20" font-size="21.24" font-weight="bold" textLength="121.24" lengthAdjust="spacingAndGlyphs" >miR-27a-3p</text>
<text x="435.87" y="739.20" font-size="21.24" font-weight="bold" textLength="110.88" lengthAdjust="spacingAndGlyphs" >miR-24-3p</text>
<text transform="translate(37.90,556.70) rotate(-90)" x="-0.36" y="0" font-size="23.32" font-weight="bold" textLength="89.91" lengthAdjust="spacingAndGlyphs">% <tspan font-style="italic">RNU6</tspan></text>
<text x="-0.31" y="380.30" font-size="54.61" font-weight="bold" textLength="30.20" lengthAdjust="spacingAndGlyphs" >C</text>
<line x1="414.5" y1="372.5" x2="448.0" y2="372.5" stroke="#0000ff" stroke-width="3.4" />
<rect x="426.4" y="367.7" width="9.6" height="9.6" fill="#fff" stroke="#0000ff" stroke-width="3"/>
<text x="466.04" y="381.00" font-size="26.60" font-weight="bold" textLength="81.27" lengthAdjust="spacingAndGlyphs" >gRNA1</text>
<line x1="414.5" y1="414.4" x2="448.0" y2="414.4" stroke="#ff0000" stroke-width="3.4" />
<path d="M431.2,408.9 L437.6,420.8 L424.9,420.8Z" fill="#fff" stroke="#ff0000" stroke-width="3" stroke-linejoin="round"/>
<text x="466.01" y="423.00" font-size="26.45" font-weight="bold" textLength="83.81" lengthAdjust="spacingAndGlyphs" >gRNA2</text>
<line x1="114.8" y1="551.0" x2="114.8" y2="492.0" stroke="#ff0000" stroke-width="3" />
<line x1="108.8" y1="551.0" x2="120.8" y2="551.0" stroke="#ff0000" stroke-width="3" />
<line x1="108.8" y1="492.0" x2="120.8" y2="492.0" stroke="#ff0000" stroke-width="3" />
<line x1="147.6" y1="487.5" x2="147.6" y2="518.5" stroke="#ff0000" stroke-width="3" />
<line x1="141.6" y1="487.5" x2="153.6" y2="487.5" stroke="#ff0000" stroke-width="3" />
<line x1="141.6" y1="518.5" x2="153.6" y2="518.5" stroke="#ff0000" stroke-width="3" />
<line x1="181.0" y1="499.0" x2="181.0" y2="537.0" stroke="#ff0000" stroke-width="3" />
<line x1="175.0" y1="499.0" x2="187.0" y2="499.0" stroke="#ff0000" stroke-width="3" />
<line x1="175.0" y1="537.0" x2="187.0" y2="537.0" stroke="#ff0000" stroke-width="3" />
<line x1="214.6" y1="595.0" x2="214.6" y2="642.0" stroke="#ff0000" stroke-width="3" />
<line x1="208.6" y1="595.0" x2="220.6" y2="595.0" stroke="#ff0000" stroke-width="3" />
<line x1="208.6" y1="642.0" x2="220.6" y2="642.0" stroke="#ff0000" stroke-width="3" />
<polyline points="114.8,521.0 147.6,503.0 181.0,518.5 214.6,622.4" fill="none" stroke="#ff0000" stroke-width="3" stroke-linejoin="round" />
<path d="M114.8,515.7 L120.9,527.2 L108.7,527.2Z" fill="#fff" stroke="#ff0000" stroke-width="3" stroke-linejoin="round"/>
<path d="M147.6,497.7 L153.7,509.2 L141.5,509.2Z" fill="#fff" stroke="#ff0000" stroke-width="3" stroke-linejoin="round"/>
<path d="M181.0,513.2 L187.1,524.7 L174.9,524.7Z" fill="#fff" stroke="#ff0000" stroke-width="3" stroke-linejoin="round"/>
<path d="M214.6,617.1 L220.7,628.6 L208.5,628.6Z" fill="#fff" stroke="#ff0000" stroke-width="3" stroke-linejoin="round"/>
<line x1="114.8" y1="417.0" x2="114.8" y2="492.8" stroke="#0000ff" stroke-width="3" />
<line x1="108.8" y1="417.0" x2="120.8" y2="417.0" stroke="#0000ff" stroke-width="3" />
<line x1="108.8" y1="492.8" x2="120.8" y2="492.8" stroke="#0000ff" stroke-width="3" />
<line x1="147.6" y1="504.0" x2="147.6" y2="549.0" stroke="#0000ff" stroke-width="3" />
<line x1="141.6" y1="504.0" x2="153.6" y2="504.0" stroke="#0000ff" stroke-width="3" />
<line x1="141.6" y1="549.0" x2="153.6" y2="549.0" stroke="#0000ff" stroke-width="3" />
<line x1="181.0" y1="532.0" x2="181.0" y2="560.7" stroke="#0000ff" stroke-width="3" />
<line x1="175.0" y1="532.0" x2="187.0" y2="532.0" stroke="#0000ff" stroke-width="3" />
<line x1="175.0" y1="560.7" x2="187.0" y2="560.7" stroke="#0000ff" stroke-width="3" />
<polyline points="114.8,492.8 147.6,549.0 181.0,560.7 214.6,615.6" fill="none" stroke="#0000ff" stroke-width="3" stroke-linejoin="round" />
<rect x="110.0" y="488.1" width="9.5" height="9.5" fill="#fff" stroke="#0000ff" stroke-width="3"/>
<rect x="142.8" y="544.2" width="9.5" height="9.5" fill="#fff" stroke="#0000ff" stroke-width="3"/>
<rect x="176.2" y="556.0" width="9.5" height="9.5" fill="#fff" stroke="#0000ff" stroke-width="3"/>
<rect x="209.8" y="610.9" width="9.5" height="9.5" fill="#fff" stroke="#0000ff" stroke-width="3"/>
<polyline points="280.7,573.7 314.0,611.6 347.4,593.6 381.0,649.7" fill="none" stroke="#ff0000" stroke-width="3" stroke-linejoin="round" />
<rect x="276.2" y="569.2" width="9.0" height="9.0" fill="#fff" stroke="#ff0000" stroke-width="3"/>
<rect x="309.5" y="607.1" width="9.0" height="9.0" fill="#fff" stroke="#ff0000" stroke-width="3"/>
<rect x="342.9" y="589.1" width="9.0" height="9.0" fill="#fff" stroke="#ff0000" stroke-width="3"/>
<rect x="376.5" y="645.2" width="9.0" height="9.0" fill="#fff" stroke="#ff0000" stroke-width="3"/>
<polyline points="280.7,590.8 314.0,587.4 347.4,602.0 381.0,621.0" fill="none" stroke="#0000ff" stroke-width="3" stroke-linejoin="round" />
<rect x="275.9" y="586.0" width="9.5" height="9.5" fill="#fff" stroke="#0000ff" stroke-width="3"/>
<rect x="309.2" y="582.6" width="9.5" height="9.5" fill="#fff" stroke="#0000ff" stroke-width="3"/>
<rect x="342.6" y="597.2" width="9.5" height="9.5" fill="#fff" stroke="#0000ff" stroke-width="3"/>
<rect x="376.2" y="616.2" width="9.5" height="9.5" fill="#fff" stroke="#0000ff" stroke-width="3"/>
<polyline points="447.0,593.0 480.8,586.0 514.0,601.0 547.5,603.0" fill="none" stroke="#ff0000" stroke-width="3" stroke-linejoin="round" />
<rect x="442.5" y="588.5" width="9.0" height="9.0" fill="#fff" stroke="#ff0000" stroke-width="3"/>
<rect x="476.3" y="581.5" width="9.0" height="9.0" fill="#fff" stroke="#ff0000" stroke-width="3"/>
<rect x="509.5" y="596.5" width="9.0" height="9.0" fill="#fff" stroke="#ff0000" stroke-width="3"/>
<rect x="543.0" y="598.5" width="9.0" height="9.0" fill="#fff" stroke="#ff0000" stroke-width="3"/>
<polyline points="447.0,588.6 480.8,591.7 514.0,595.4 547.5,600.0" fill="none" stroke="#0000ff" stroke-width="3" stroke-linejoin="round" />
<rect x="442.2" y="583.9" width="9.5" height="9.5" fill="#fff" stroke="#0000ff" stroke-width="3"/>
<rect x="476.1" y="587.0" width="9.5" height="9.5" fill="#fff" stroke="#0000ff" stroke-width="3"/>
<rect x="509.2" y="590.6" width="9.5" height="9.5" fill="#fff" stroke="#0000ff" stroke-width="3"/>
<rect x="542.8" y="595.2" width="9.5" height="9.5" fill="#fff" stroke="#0000ff" stroke-width="3"/>
<line x1="86.8" y1="1152.5" x2="86.8" y2="1473.5" stroke="#000" stroke-width="3" />
<line x1="77.8" y1="1472.0" x2="86.8" y2="1472.0" stroke="#000" stroke-width="3" />
<text x="73.0" y="1480.2" font-size="23" font-weight="bold" text-anchor="end" >0</text>
<line x1="77.8" y1="1392.5" x2="86.8" y2="1392.5" stroke="#000" stroke-width="3" />
<text x="73.0" y="1400.7" font-size="23" font-weight="bold" text-anchor="end" >1</text>
<line x1="77.8" y1="1313.0" x2="86.8" y2="1313.0" stroke="#000" stroke-width="3" />
<text x="73.0" y="1321.2" font-size="23" font-weight="bold" text-anchor="end" >2</text>
<line x1="77.8" y1="1233.5" x2="86.8" y2="1233.5" stroke="#000" stroke-width="3" />
<text x="73.0" y="1241.7" font-size="23" font-weight="bold" text-anchor="end" >3</text>
<line x1="77.8" y1="1154.0" x2="86.8" y2="1154.0" stroke="#000" stroke-width="3" />
<text x="73.0" y="1162.2" font-size="23" font-weight="bold" text-anchor="end" >4</text>
<line x1="77.5" y1="1472.0" x2="564.0" y2="1472.0" stroke="#000" stroke-width="3.5" />
<line x1="108.0" y1="1472.0" x2="108.0" y2="1481.5" stroke="#000" stroke-width="3" />
<line x1="141.0" y1="1472.0" x2="141.0" y2="1481.5" stroke="#000" stroke-width="3" />
<line x1="174.6" y1="1472.0" x2="174.6" y2="1481.5" stroke="#000" stroke-width="3" />
<line x1="207.8" y1="1472.0" x2="207.8" y2="1481.5" stroke="#000" stroke-width="3" />
<line x1="273.6" y1="1472.0" x2="273.6" y2="1481.5" stroke="#000" stroke-width="3" />
<line x1="307.0" y1="1472.0" x2="307.0" y2="1481.5" stroke="#000" stroke-width="3" />
<line x1="340.6" y1="1472.0" x2="340.6" y2="1481.5" stroke="#000" stroke-width="3" />
<line x1="374.4" y1="1472.0" x2="374.4" y2="1481.5" stroke="#000" stroke-width="3" />
<line x1="440.4" y1="1472.0" x2="440.4" y2="1481.5" stroke="#000" stroke-width="3" />
<line x1="473.6" y1="1472.0" x2="473.6" y2="1481.5" stroke="#000" stroke-width="3" />
<line x1="507.0" y1="1472.0" x2="507.0" y2="1481.5" stroke="#000" stroke-width="3" />
<line x1="540.3" y1="1472.0" x2="540.3" y2="1481.5" stroke="#000" stroke-width="3" />
<line x1="241.0" y1="1472.0" x2="241.0" y2="1481.5" stroke="#000" stroke-width="3" />
<line x1="407.0" y1="1472.0" x2="407.0" y2="1481.5" stroke="#000" stroke-width="3" />
<text x="105.0" y="1509.1" font-size="22.5" font-weight="bold" text-anchor="middle" transform="rotate(-45 105.0 1501.0)">0</text>
<text x="138.0" y="1509.1" font-size="22.5" font-weight="bold" text-anchor="middle" transform="rotate(-45 138.0 1501.0)">2</text>
<text x="171.6" y="1509.1" font-size="22.5" font-weight="bold" text-anchor="middle" transform="rotate(-45 171.6 1501.0)">4</text>
<text x="204.8" y="1509.1" font-size="22.5" font-weight="bold" text-anchor="middle" transform="rotate(-45 204.8 1501.0)">7</text>
<text x="270.6" y="1509.1" font-size="22.5" font-weight="bold" text-anchor="middle" transform="rotate(-45 270.6 1501.0)">0</text>
<text x="304.0" y="1509.1" font-size="22.5" font-weight="bold" text-anchor="middle" transform="rotate(-45 304.0 1501.0)">2</text>
<text x="337.6" y="1509.1" font-size="22.5" font-weight="bold" text-anchor="middle" transform="rotate(-45 337.6 1501.0)">4</text>
<text x="371.4" y="1509.1" font-size="22.5" font-weight="bold" text-anchor="middle" transform="rotate(-45 371.4 1501.0)">7</text>
<text x="437.4" y="1509.1" font-size="22.5" font-weight="bold" text-anchor="middle" transform="rotate(-45 437.4 1501.0)">0</text>
<text x="470.6" y="1509.1" font-size="22.5" font-weight="bold" text-anchor="middle" transform="rotate(-45 470.6 1501.0)">2</text>
<text x="504.0" y="1509.1" font-size="22.5" font-weight="bold" text-anchor="middle" transform="rotate(-45 504.0 1501.0)">4</text>
<text x="537.3" y="1509.1" font-size="22.5" font-weight="bold" text-anchor="middle" transform="rotate(-45 537.3 1501.0)">7</text>
<text x="27.18" y="1509.80" font-size="22.47" font-weight="bold" textLength="58.00" lengthAdjust="spacingAndGlyphs" >Days</text>
<text x="88.98" y="1551.00" font-size="22.47" font-weight="bold" textLength="131.12" lengthAdjust="spacingAndGlyphs" >miR-23a-3p</text>
<text x="258.98" y="1551.00" font-size="22.47" font-weight="bold" textLength="131.12" lengthAdjust="spacingAndGlyphs" >miR-27a-3p</text>
<text x="425.89" y="1551.00" font-size="22.47" font-weight="bold" textLength="117.11" lengthAdjust="spacingAndGlyphs" >miR-24-3p</text>
<text transform="translate(44.70,1358.70) rotate(-90)" x="-0.37" y="0" font-size="24.30" font-weight="bold" textLength="93.12" lengthAdjust="spacingAndGlyphs">% <tspan font-style="italic">RNU6</tspan></text>
<text x="4.79" y="1189.20" font-size="54.04" font-weight="bold" textLength="35.88" lengthAdjust="spacingAndGlyphs" >H</text>
<line x1="429.0" y1="1169.6" x2="463.0" y2="1169.6" stroke="#0000ff" stroke-width="3.4" />
<rect x="441.2" y="1164.8" width="9.6" height="9.6" fill="#fff" stroke="#0000ff" stroke-width="3"/>
<text x="481.79" y="1178.90" font-size="26.88" font-weight="bold" textLength="86.46" lengthAdjust="spacingAndGlyphs" >gRNA3</text>
<line x1="429.0" y1="1212.9" x2="463.0" y2="1212.9" stroke="#ff0000" stroke-width="3.4" />
<path d="M446.0,1207.4 L452.3,1219.3 L439.7,1219.3Z" fill="#fff" stroke="#ff0000" stroke-width="3" stroke-linejoin="round"/>
<text x="481.79" y="1221.90" font-size="27.02" font-weight="bold" textLength="86.04" lengthAdjust="spacingAndGlyphs" >gRNA4</text>
<line x1="207.8" y1="1367.0" x2="207.8" y2="1410.0" stroke="#ff0000" stroke-width="3" />
<line x1="201.8" y1="1367.0" x2="213.8" y2="1367.0" stroke="#ff0000" stroke-width="3" />
<line x1="201.8" y1="1410.0" x2="213.8" y2="1410.0" stroke="#ff0000" stroke-width="3" />
<polyline points="108.0,1463.7 141.0,1445.7 174.6,1421.0 207.8,1387.4" fill="none" stroke="#ff0000" stroke-width="3" stroke-linejoin="round" />
<path d="M108.0,1458.4 L114.1,1469.9 L101.9,1469.9Z" fill="#fff" stroke="#ff0000" stroke-width="3" stroke-linejoin="round"/>
<path d="M141.0,1440.4 L147.1,1451.9 L134.9,1451.9Z" fill="#fff" stroke="#ff0000" stroke-width="3" stroke-linejoin="round"/>
<path d="M174.6,1415.7 L180.7,1427.2 L168.5,1427.2Z" fill="#fff" stroke="#ff0000" stroke-width="3" stroke-linejoin="round"/>
<path d="M207.8,1382.1 L213.9,1393.6 L201.7,1393.6Z" fill="#fff" stroke="#ff0000" stroke-width="3" stroke-linejoin="round"/>
<line x1="307.0" y1="1412.0" x2="307.0" y2="1430.0" stroke="#ff0000" stroke-width="3" />
<line x1="301.0" y1="1412.0" x2="313.0" y2="1412.0" stroke="#ff0000" stroke-width="3" />
<line x1="301.0" y1="1430.0" x2="313.0" y2="1430.0" stroke="#ff0000" stroke-width="3" />
<line x1="340.6" y1="1401.0" x2="340.6" y2="1411.0" stroke="#ff0000" stroke-width="3" />
<line x1="334.6" y1="1401.0" x2="346.6" y2="1401.0" stroke="#ff0000" stroke-width="3" />
<line x1="334.6" y1="1411.0" x2="346.6" y2="1411.0" stroke="#ff0000" stroke-width="3" />
<line x1="374.4" y1="1325.6" x2="374.4" y2="1359.8" stroke="#ff0000" stroke-width="3" />
<line x1="368.4" y1="1325.6" x2="380.4" y2="1325.6" stroke="#ff0000" stroke-width="3" />
<line x1="368.4" y1="1359.8" x2="380.4" y2="1359.8" stroke="#ff0000" stroke-width="3" />
<polyline points="273.6,1445.0 307.0,1422.4 340.6,1406.0 374.4,1344.0" fill="none" stroke="#ff0000" stroke-width="3" stroke-linejoin="round" />
<path d="M273.6,1439.7 L279.7,1451.2 L267.5,1451.2Z" fill="#fff" stroke="#ff0000" stroke-width="3" stroke-linejoin="round"/>
<path d="M307.0,1417.1 L313.1,1428.6 L300.9,1428.6Z" fill="#fff" stroke="#ff0000" stroke-width="3" stroke-linejoin="round"/>
<path d="M340.6,1400.7 L346.7,1412.2 L334.5,1412.2Z" fill="#fff" stroke="#ff0000" stroke-width="3" stroke-linejoin="round"/>
<path d="M374.4,1338.7 L380.5,1350.2 L368.3,1350.2Z" fill="#fff" stroke="#ff0000" stroke-width="3" stroke-linejoin="round"/>
<line x1="473.6" y1="1449.0" x2="473.6" y2="1459.0" stroke="#ff0000" stroke-width="3" />
<line x1="467.6" y1="1449.0" x2="479.6" y2="1449.0" stroke="#ff0000" stroke-width="3" />
<line x1="467.6" y1="1459.0" x2="479.6" y2="1459.0" stroke="#ff0000" stroke-width="3" />
<line x1="540.3" y1="1392.0" x2="540.3" y2="1410.0" stroke="#ff0000" stroke-width="3" />
<line x1="534.3" y1="1392.0" x2="546.3" y2="1392.0" stroke="#ff0000" stroke-width="3" />
<line x1="534.3" y1="1410.0" x2="546.3" y2="1410.0" stroke="#ff0000" stroke-width="3" />
<polyline points="440.4,1456.5 473.6,1455.0 507.0,1447.2 540.3,1400.7" fill="none" stroke="#ff0000" stroke-width="3" stroke-linejoin="round" />
<path d="M440.4,1451.2 L446.5,1462.7 L434.3,1462.7Z" fill="#fff" stroke="#ff0000" stroke-width="3" stroke-linejoin="round"/>
<path d="M473.6,1449.7 L479.7,1461.2 L467.5,1461.2Z" fill="#fff" stroke="#ff0000" stroke-width="3" stroke-linejoin="round"/>
<path d="M507.0,1441.9 L513.1,1453.4 L500.9,1453.4Z" fill="#fff" stroke="#ff0000" stroke-width="3" stroke-linejoin="round"/>
<path d="M540.3,1395.4 L546.4,1406.9 L534.2,1406.9Z" fill="#fff" stroke="#ff0000" stroke-width="3" stroke-linejoin="round"/>
<line x1="108.0" y1="1431.7" x2="108.0" y2="1447.2" stroke="#0000ff" stroke-width="3" />
<line x1="102.0" y1="1431.7" x2="114.0" y2="1431.7" stroke="#0000ff" stroke-width="3" />
<line x1="102.0" y1="1447.2" x2="114.0" y2="1447.2" stroke="#0000ff" stroke-width="3" />
<line x1="141.0" y1="1430.0" x2="141.0" y2="1448.0" stroke="#0000ff" stroke-width="3" />
<line x1="135.0" y1="1430.0" x2="147.0" y2="1430.0" stroke="#0000ff" stroke-width="3" />
<line x1="135.0" y1="1448.0" x2="147.0" y2="1448.0" stroke="#0000ff" stroke-width="3" />
<line x1="174.6" y1="1403.0" x2="174.6" y2="1414.0" stroke="#0000ff" stroke-width="3" />
<line x1="168.6" y1="1403.0" x2="180.6" y2="1403.0" stroke="#0000ff" stroke-width="3" />
<line x1="168.6" y1="1414.0" x2="180.6" y2="1414.0" stroke="#0000ff" stroke-width="3" />
<line x1="207.8" y1="1378.0" x2="207.8" y2="1419.0" stroke="#0000ff" stroke-width="3" />
<line x1="201.8" y1="1378.0" x2="213.8" y2="1378.0" stroke="#0000ff" stroke-width="3" />
<line x1="201.8" y1="1419.0" x2="213.8" y2="1419.0" stroke="#0000ff" stroke-width="3" />
<polyline points="108.0,1439.5 141.0,1439.5 174.6,1409.4 207.8,1398.2" fill="none" stroke="#0000ff" stroke-width="3" stroke-linejoin="round" />
<rect x="103.0" y="1434.5" width="10.0" height="10.0" fill="#fff" stroke="#0000ff" stroke-width="3"/>
<rect x="136.0" y="1434.5" width="10.0" height="10.0" fill="#fff" stroke="#0000ff" stroke-width="3"/>
<rect x="169.6" y="1404.4" width="10.0" height="10.0" fill="#fff" stroke="#0000ff" stroke-width="3"/>
<rect x="202.8" y="1393.2" width="10.0" height="10.0" fill="#fff" stroke="#0000ff" stroke-width="3"/>
<line x1="340.6" y1="1310.8" x2="340.6" y2="1393.0" stroke="#0000ff" stroke-width="3" />
<line x1="334.6" y1="1310.8" x2="346.6" y2="1310.8" stroke="#0000ff" stroke-width="3" />
<line x1="334.6" y1="1393.0" x2="346.6" y2="1393.0" stroke="#0000ff" stroke-width="3" />
<line x1="374.4" y1="1202.0" x2="374.4" y2="1228.6" stroke="#0000ff" stroke-width="3" />
<line x1="368.4" y1="1202.0" x2="380.4" y2="1202.0" stroke="#0000ff" stroke-width="3" />
<line x1="368.4" y1="1228.6" x2="380.4" y2="1228.6" stroke="#0000ff" stroke-width="3" />
<polyline points="273.6,1462.0 307.0,1367.2 340.6,1351.0 374.4,1215.5" fill="none" stroke="#0000ff" stroke-width="3" stroke-linejoin="round" />
<rect x="268.6" y="1457.0" width="10.0" height="10.0" fill="#fff" stroke="#0000ff" stroke-width="3"/>
<rect x="302.0" y="1362.2" width="10.0" height="10.0" fill="#fff" stroke="#0000ff" stroke-width="3"/>
<rect x="335.6" y="1346.0" width="10.0" height="10.0" fill="#fff" stroke="#0000ff" stroke-width="3"/>
<rect x="369.4" y="1210.5" width="10.0" height="10.0" fill="#fff" stroke="#0000ff" stroke-width="3"/>
<line x1="440.4" y1="1429.5" x2="440.4" y2="1451.0" stroke="#0000ff" stroke-width="3" />
<line x1="434.4" y1="1429.5" x2="446.4" y2="1429.5" stroke="#0000ff" stroke-width="3" />
<line x1="434.4" y1="1451.0" x2="446.4" y2="1451.0" stroke="#0000ff" stroke-width="3" />
<line x1="507.0" y1="1416.0" x2="507.0" y2="1426.0" stroke="#0000ff" stroke-width="3" />
<line x1="501.0" y1="1416.0" x2="513.0" y2="1416.0" stroke="#0000ff" stroke-width="3" />
<line x1="501.0" y1="1426.0" x2="513.0" y2="1426.0" stroke="#0000ff" stroke-width="3" />
<line x1="540.3" y1="1290.6" x2="540.3" y2="1313.0" stroke="#0000ff" stroke-width="3" />
<line x1="534.3" y1="1290.6" x2="546.3" y2="1290.6" stroke="#0000ff" stroke-width="3" />
<line x1="534.3" y1="1313.0" x2="546.3" y2="1313.0" stroke="#0000ff" stroke-width="3" />
<polyline points="440.4,1441.0 473.6,1438.0 507.0,1421.0 540.3,1302.4" fill="none" stroke="#0000ff" stroke-width="3" stroke-linejoin="round" />
<rect x="435.4" y="1436.0" width="10.0" height="10.0" fill="#fff" stroke="#0000ff" stroke-width="3"/>
<rect x="468.6" y="1433.0" width="10.0" height="10.0" fill="#fff" stroke="#0000ff" stroke-width="3"/>
<rect x="502.0" y="1416.0" width="10.0" height="10.0" fill="#fff" stroke="#0000ff" stroke-width="3"/>
<rect x="535.3" y="1297.4" width="10.0" height="10.0" fill="#fff" stroke="#0000ff" stroke-width="3"/>
<line x1="714.1" y1="368.3" x2="714.1" y2="668.9" stroke="#000" stroke-width="3" />
<line x1="705.1" y1="667.4" x2="714.1" y2="667.4" stroke="#000" stroke-width="3" />
<text x="701.6" y="675.6" font-size="23" font-weight="bold" text-anchor="end" >0</text>
<line x1="705.1" y1="607.9" x2="714.1" y2="607.9" stroke="#000" stroke-width="3" />
<text x="701.6" y="616.1" font-size="23" font-weight="bold" text-anchor="end" >2</text>
<line x1="705.1" y1="548.4" x2="714.1" y2="548.4" stroke="#000" stroke-width="3" />
<text x="701.6" y="556.6" font-size="23" font-weight="bold" text-anchor="end" >4</text>
<line x1="705.1" y1="488.8" x2="714.1" y2="488.8" stroke="#000" stroke-width="3" />
<text x="701.6" y="497.1" font-size="23" font-weight="bold" text-anchor="end" >6</text>
<line x1="705.1" y1="429.3" x2="714.1" y2="429.3" stroke="#000" stroke-width="3" />
<text x="701.6" y="437.6" font-size="23" font-weight="bold" text-anchor="end" >8</text>
<line x1="705.1" y1="369.8" x2="714.1" y2="369.8" stroke="#000" stroke-width="3" />
<text x="701.6" y="378.0" font-size="23" font-weight="bold" text-anchor="end" >10</text>
<line x1="705.1" y1="667.4" x2="1162.0" y2="667.4" stroke="#000" stroke-width="3.5" />
<line x1="770.0" y1="667.4" x2="770.0" y2="676.9" stroke="#000" stroke-width="3" />
<text x="767.0" y="702.8" font-size="22" font-weight="bold" text-anchor="middle" transform="rotate(-45 767.0 694.9)">0</text>
<line x1="881.6" y1="667.4" x2="881.6" y2="676.9" stroke="#000" stroke-width="3" />
<text x="878.6" y="702.8" font-size="22" font-weight="bold" text-anchor="middle" transform="rotate(-45 878.6 694.9)">2</text>
<line x1="993.6" y1="667.4" x2="993.6" y2="676.9" stroke="#000" stroke-width="3" />
<text x="990.6" y="702.8" font-size="22" font-weight="bold" text-anchor="middle" transform="rotate(-45 990.6 694.9)">4</text>
<line x1="1105.0" y1="667.4" x2="1105.0" y2="676.9" stroke="#000" stroke-width="3" />
<text x="1102.0" y="702.8" font-size="22" font-weight="bold" text-anchor="middle" transform="rotate(-45 1102.0 694.9)">7</text>
<text x="821.3" y="396.7" font-size="21.5" font-weight="bold" textLength="231.7" lengthAdjust="spacingAndGlyphs" >HepG2+KRAB+gRNA1</text>
<text x="627.88" y="379.90" font-size="53.19" font-weight="bold" textLength="36.05" lengthAdjust="spacingAndGlyphs" >D</text>
<text x="909.79" y="738.00" font-size="25.17" font-weight="bold" textLength="57.69" lengthAdjust="spacingAndGlyphs" >Days</text>
<text transform="translate(661.90,571.00) rotate(-90)" x="-0.35" y="0" font-size="21.93" font-weight="bold" textLength="107.23" lengthAdjust="spacingAndGlyphs">% <tspan font-style="italic">GAPDH</tspan></text>
<polyline points="770.0,625.1 881.6,601.3 993.6,633.5 1105.0,578.1" fill="none" stroke="#000" stroke-width="3" stroke-linejoin="round" />
<path d="M770.0,617.6 L777.5,625.1 L770.0,632.6 L762.5,625.1Z" fill="#fff" stroke="#000" stroke-width="2.6"/>
<path d="M881.6,593.8 L889.1,601.3 L881.6,608.8 L874.1,601.3Z" fill="#fff" stroke="#000" stroke-width="2.6"/>
<path d="M993.6,626.0 L1001.1,633.5 L993.6,641.0 L986.1,633.5Z" fill="#fff" stroke="#000" stroke-width="2.6"/>
<path d="M1105.0,570.6 L1112.5,578.1 L1105.0,585.6 L1097.5,578.1Z" fill="#fff" stroke="#000" stroke-width="2.6"/>
<line x1="770.0" y1="601.9" x2="770.0" y2="631.7" stroke="#000" stroke-width="3" />
<line x1="763.0" y1="601.9" x2="777.0" y2="601.9" stroke="#000" stroke-width="3" />
<line x1="763.0" y1="631.7" x2="777.0" y2="631.7" stroke="#000" stroke-width="3" />
<line x1="881.6" y1="470.4" x2="881.6" y2="500.1" stroke="#000" stroke-width="3" />
<line x1="874.6" y1="470.4" x2="888.6" y2="470.4" stroke="#000" stroke-width="3" />
<line x1="874.6" y1="500.1" x2="888.6" y2="500.1" stroke="#000" stroke-width="3" />
<line x1="1105.0" y1="536.5" x2="1105.0" y2="563.2" stroke="#000" stroke-width="3" />
<line x1="1098.0" y1="536.5" x2="1112.0" y2="536.5" stroke="#000" stroke-width="3" />
<line x1="1098.0" y1="563.2" x2="1112.0" y2="563.2" stroke="#000" stroke-width="3" />
<polyline points="770.0,619.2 881.6,484.7 993.6,630.8 1105.0,550.7" fill="none" stroke="#000" stroke-width="3" stroke-linejoin="round" />
<path d="M770.0,611.9 L776.5,624.1 L763.5,624.1Z" fill="#000"/>
<path d="M881.6,477.4 L888.1,489.6 L875.1,489.6Z" fill="#000"/>
<path d="M993.6,623.5 L1000.1,635.7 L987.1,635.7Z" fill="#000"/>
<path d="M1105.0,543.5 L1111.5,555.7 L1098.5,555.7Z" fill="#000"/>
<polyline points="770.0,620.1 881.6,558.5 993.6,608.2 1105.0,584.4" fill="none" stroke="#000" stroke-width="3" stroke-linejoin="round" />
<rect x="764.8" y="614.9" width="10.4" height="10.4" fill="#fff" stroke="#000" stroke-width="2.6"/>
<rect x="876.4" y="553.3" width="10.4" height="10.4" fill="#fff" stroke="#000" stroke-width="2.6"/>
<rect x="988.4" y="603.0" width="10.4" height="10.4" fill="#fff" stroke="#000" stroke-width="2.6"/>
<rect x="1099.8" y="579.2" width="10.4" height="10.4" fill="#fff" stroke="#000" stroke-width="2.6"/>
<polyline points="770.0,631.4 881.6,487.4 993.6,566.2 1105.0,430.2" fill="none" stroke="#000" stroke-width="3" stroke-linejoin="round" />
<circle cx="770.0" cy="631.4" r="5.7" fill="#fff" stroke="#000" stroke-width="2.6"/>
<circle cx="881.6" cy="487.4" r="5.7" fill="#fff" stroke="#000" stroke-width="2.6"/>
<circle cx="993.6" cy="566.2" r="5.7" fill="#fff" stroke="#000" stroke-width="2.6"/>
<circle cx="1105.0" cy="430.2" r="5.7" fill="#fff" stroke="#000" stroke-width="2.6"/>
<polyline points="770.0,592.4 881.6,581.7 993.6,616.5 1105.0,560.3" fill="none" stroke="#000" stroke-width="3" stroke-linejoin="round" />
<path d="M770.0,599.7 L776.5,587.5 L763.5,587.5Z" fill="#fff" stroke="#000" stroke-width="2.6"/>
<path d="M881.6,588.9 L888.1,576.8 L875.1,576.8Z" fill="#fff" stroke="#000" stroke-width="2.6"/>
<path d="M993.6,623.8 L1000.1,611.6 L987.1,611.6Z" fill="#fff" stroke="#000" stroke-width="2.6"/>
<path d="M1105.0,567.5 L1111.5,555.4 L1098.5,555.4Z" fill="#fff" stroke="#000" stroke-width="2.6"/>
<line x1="1105.0" y1="647.2" x2="1105.0" y2="660.9" stroke="#10c078" stroke-width="3" />
<line x1="1098.0" y1="647.2" x2="1112.0" y2="647.2" stroke="#10c078" stroke-width="3" />
<line x1="1098.0" y1="660.9" x2="1112.0" y2="660.9" stroke="#10c078" stroke-width="3" />
<polyline points="770.0,627.2 881.6,640.0 993.6,645.4 1105.0,654.0" fill="none" stroke="#10c078" stroke-width="3" stroke-linejoin="round" />
<path d="M770.0,619.7 L777.5,627.2 L770.0,634.7 L762.5,627.2Z" fill="#10c078"/>
<path d="M881.6,632.5 L889.1,640.0 L881.6,647.5 L874.1,640.0Z" fill="#10c078"/>
<path d="M993.6,637.9 L1001.1,645.4 L993.6,652.9 L986.1,645.4Z" fill="#10c078"/>
<path d="M1105.0,646.5 L1112.5,654.0 L1105.0,661.5 L1097.5,654.0Z" fill="#10c078"/>
<polyline points="770.0,649.8 881.6,635.3 993.6,601.0 1105.0,586.8" fill="none" stroke="#7030a0" stroke-width="3" stroke-linejoin="round" />
<path d="M770.0,642.6 L776.5,654.8 L763.5,654.8Z" fill="#7030a0"/>
<path d="M881.6,628.0 L888.1,640.2 L875.1,640.2Z" fill="#7030a0"/>
<path d="M993.6,593.8 L1000.1,605.9 L987.1,605.9Z" fill="#7030a0"/>
<path d="M1105.0,579.5 L1111.5,591.7 L1098.5,591.7Z" fill="#7030a0"/>
<polyline points="770.0,628.7 881.6,529.0 993.6,523.4 1105.0,489.4" fill="none" stroke="#0000ff" stroke-width="3" stroke-linejoin="round" />
<rect x="763.5" y="622.2" width="13.0" height="13.0" fill="#0000ff"/>
<rect x="875.1" y="522.5" width="13.0" height="13.0" fill="#0000ff"/>
<rect x="987.1" y="516.9" width="13.0" height="13.0" fill="#0000ff"/>
<rect x="1098.5" y="482.9" width="13.0" height="13.0" fill="#0000ff"/>
<line x1="1105.0" y1="601.9" x2="1105.0" y2="628.7" stroke="#ff0000" stroke-width="3" />
<line x1="1098.0" y1="601.9" x2="1112.0" y2="601.9" stroke="#ff0000" stroke-width="3" />
<line x1="1098.0" y1="628.7" x2="1112.0" y2="628.7" stroke="#ff0000" stroke-width="3" />
<polyline points="770.0,660.3 881.6,658.5 993.6,640.3 1105.0,615.6" fill="none" stroke="#ff0000" stroke-width="3" stroke-linejoin="round" />
<circle cx="770.0" cy="660.3" r="6.5" fill="#ff0000"/>
<circle cx="881.6" cy="658.5" r="6.5" fill="#ff0000"/>
<circle cx="993.6" cy="640.3" r="6.5" fill="#ff0000"/>
<circle cx="1105.0" cy="615.6" r="6.5" fill="#ff0000"/>
<line x1="1175.3" y1="389.4" x2="1207.2" y2="389.4" stroke="#ff0000" stroke-width="3" />
<circle cx="1191.2" cy="389.4" r="6.5" fill="#ff0000"/>
<text x="1226.8" y="397.0" font-size="24.3" textLength="63.4" lengthAdjust="spacingAndGlyphs" >PURA</text>
<line x1="1175.3" y1="414.8" x2="1207.2" y2="414.8" stroke="#0000ff" stroke-width="3" />
<rect x="1184.8" y="408.3" width="13.0" height="13.0" fill="#0000ff"/>
<text x="1226.8" y="422.4" font-size="24.3" textLength="75.0" lengthAdjust="spacingAndGlyphs" >CDC27</text>
<line x1="1175.3" y1="445.0" x2="1207.2" y2="445.0" stroke="#7030a0" stroke-width="3" />
<path d="M1191.2,437.7 L1197.8,449.9 L1184.8,449.9Z" fill="#7030a0"/>
<text x="1226.8" y="452.6" font-size="24.3" textLength="70.0" lengthAdjust="spacingAndGlyphs" >STAG1</text>
<line x1="1175.3" y1="473.6" x2="1207.2" y2="473.6" stroke="#10c078" stroke-width="3" />
<path d="M1191.2,466.1 L1198.8,473.6 L1191.2,481.1 L1183.8,473.6Z" fill="#10c078"/>
<text x="1226.8" y="481.2" font-size="24.3" textLength="47.0" lengthAdjust="spacingAndGlyphs" >TTK</text>
<line x1="1175.3" y1="499.6" x2="1207.2" y2="499.6" stroke="#000" stroke-width="3" />
<path d="M1191.2,492.1 L1198.8,499.6 L1191.2,507.1 L1183.8,499.6Z" fill="#fff" stroke="#000" stroke-width="2.6"/>
<text x="1226.8" y="507.2" font-size="24.3" textLength="89.4" lengthAdjust="spacingAndGlyphs" >MAD2L1</text>
<line x1="1175.3" y1="528.3" x2="1207.2" y2="528.3" stroke="#000" stroke-width="3" />
<path d="M1191.2,521.0 L1197.8,533.2 L1184.8,533.2Z" fill="#000"/>
<text x="1226.8" y="535.9" font-size="24.3" textLength="64.0" lengthAdjust="spacingAndGlyphs" >PLK-1</text>
<line x1="1175.3" y1="559.2" x2="1207.2" y2="559.2" stroke="#000" stroke-width="3" />
<rect x="1186.0" y="554.0" width="10.4" height="10.4" fill="#fff" stroke="#000" stroke-width="2.6"/>
<text x="1226.8" y="566.8" font-size="24.3" textLength="59.0" lengthAdjust="spacingAndGlyphs" >BUB1</text>
<line x1="1175.3" y1="589.0" x2="1207.2" y2="589.0" stroke="#000" stroke-width="3" />
<circle cx="1191.2" cy="589.0" r="5.7" fill="#fff" stroke="#000" stroke-width="2.6"/>
<text x="1226.8" y="596.6" font-size="24.3" textLength="81.0" lengthAdjust="spacingAndGlyphs" >SMC1A</text>
<line x1="1175.3" y1="620.2" x2="1207.2" y2="620.2" stroke="#000" stroke-width="3" />
<path d="M1191.2,627.5 L1197.8,615.3 L1184.8,615.3Z" fill="#fff" stroke="#000" stroke-width="2.6"/>
<text x="1226.8" y="627.8" font-size="24.3" textLength="61.0" lengthAdjust="spacingAndGlyphs" >CDK1</text>
<line x1="710.8" y1="1179.3" x2="710.8" y2="1470.1" stroke="#000" stroke-width="3" />
<line x1="701.8" y1="1468.6" x2="710.8" y2="1468.6" stroke="#000" stroke-width="3" />
<text x="699.3" y="1476.1" font-size="21" font-weight="bold" text-anchor="end" >0</text>
<line x1="701.8" y1="1420.6" x2="710.8" y2="1420.6" stroke="#000" stroke-width="3" />
<text x="699.3" y="1428.2" font-size="21" font-weight="bold" text-anchor="end" >2</text>
<line x1="701.8" y1="1372.7" x2="710.8" y2="1372.7" stroke="#000" stroke-width="3" />
<text x="699.3" y="1380.2" font-size="21" font-weight="bold" text-anchor="end" >4</text>
<line x1="701.8" y1="1324.7" x2="710.8" y2="1324.7" stroke="#000" stroke-width="3" />
<text x="699.3" y="1332.2" font-size="21" font-weight="bold" text-anchor="end" >6</text>
<line x1="701.8" y1="1276.8" x2="710.8" y2="1276.8" stroke="#000" stroke-width="3" />
<text x="699.3" y="1284.3" font-size="21" font-weight="bold" text-anchor="end" >8</text>
<line x1="701.8" y1="1228.8" x2="710.8" y2="1228.8" stroke="#000" stroke-width="3" />
<text x="699.3" y="1236.3" font-size="21" font-weight="bold" text-anchor="end" >10</text>
<line x1="701.8" y1="1180.8" x2="710.8" y2="1180.8" stroke="#000" stroke-width="3" />
<text x="699.3" y="1188.4" font-size="21" font-weight="bold" text-anchor="end" >12</text>
<line x1="701.8" y1="1468.6" x2="1144.0" y2="1468.6" stroke="#000" stroke-width="3.5" />
<line x1="764.6" y1="1468.6" x2="764.6" y2="1478.1" stroke="#000" stroke-width="3" />
<text x="761.6" y="1503.0" font-size="22" font-weight="bold" text-anchor="middle" transform="rotate(-45 761.6 1495.1)">0</text>
<line x1="872.8" y1="1468.6" x2="872.8" y2="1478.1" stroke="#000" stroke-width="3" />
<text x="869.8" y="1503.0" font-size="22" font-weight="bold" text-anchor="middle" transform="rotate(-45 869.8 1495.1)">2</text>
<line x1="981.3" y1="1468.6" x2="981.3" y2="1478.1" stroke="#000" stroke-width="3" />
<text x="978.3" y="1503.0" font-size="22" font-weight="bold" text-anchor="middle" transform="rotate(-45 978.3 1495.1)">4</text>
<line x1="1089.2" y1="1468.6" x2="1089.2" y2="1478.1" stroke="#000" stroke-width="3" />
<text x="1086.2" y="1503.0" font-size="22" font-weight="bold" text-anchor="middle" transform="rotate(-45 1086.2 1495.1)">7</text>
<text x="838.8" y="1208.5" font-size="21.5" font-weight="bold" textLength="206.6" lengthAdjust="spacingAndGlyphs" >HepG2+VPR+gRNA1</text>
<text x="631.52" y="1189.20" font-size="54.04" font-weight="bold" textLength="14.58" lengthAdjust="spacingAndGlyphs" >I</text>
<text x="900.44" y="1542.80" font-size="24.89" font-weight="bold" textLength="55.80" lengthAdjust="spacingAndGlyphs" >Days</text>
<text transform="translate(661.00,1375.80) rotate(-90)" x="-0.34" y="0" font-size="21.65" font-weight="bold" textLength="103.44" lengthAdjust="spacingAndGlyphs">% <tspan font-style="italic">GAPDH</tspan></text>
<polyline points="764.6,1431.9 872.8,1419.2 981.3,1455.4 1089.2,1433.1" fill="none" stroke="#000" stroke-width="3" stroke-linejoin="round" />
<path d="M764.6,1424.4 L772.1,1431.9 L764.6,1439.4 L757.1,1431.9Z" fill="#fff" stroke="#000" stroke-width="2.6"/>
<path d="M872.8,1411.7 L880.3,1419.2 L872.8,1426.7 L865.3,1419.2Z" fill="#fff" stroke="#000" stroke-width="2.6"/>
<path d="M981.3,1447.9 L988.8,1455.4 L981.3,1462.9 L973.8,1455.4Z" fill="#fff" stroke="#000" stroke-width="2.6"/>
<path d="M1089.2,1425.6 L1096.7,1433.1 L1089.2,1440.6 L1081.7,1433.1Z" fill="#fff" stroke="#000" stroke-width="2.6"/>
<polyline points="764.6,1371.5 872.8,1408.6 981.3,1437.4 1089.2,1383.0" fill="none" stroke="#000" stroke-width="3" stroke-linejoin="round" />
<path d="M764.6,1364.2 L771.1,1376.4 L758.1,1376.4Z" fill="#000"/>
<path d="M872.8,1401.4 L879.3,1413.6 L866.3,1413.6Z" fill="#000"/>
<path d="M981.3,1430.2 L987.8,1442.3 L974.8,1442.3Z" fill="#000"/>
<path d="M1089.2,1375.7 L1095.7,1387.9 L1082.7,1387.9Z" fill="#000"/>
<polyline points="764.6,1396.2 872.8,1390.9 981.3,1439.8 1089.2,1386.3" fill="none" stroke="#000" stroke-width="3" stroke-linejoin="round" />
<rect x="759.4" y="1391.0" width="10.4" height="10.4" fill="#fff" stroke="#000" stroke-width="2.6"/>
<rect x="867.6" y="1385.7" width="10.4" height="10.4" fill="#fff" stroke="#000" stroke-width="2.6"/>
<rect x="976.1" y="1434.6" width="10.4" height="10.4" fill="#fff" stroke="#000" stroke-width="2.6"/>
<rect x="1084.0" y="1381.1" width="10.4" height="10.4" fill="#fff" stroke="#000" stroke-width="2.6"/>
<polyline points="764.6,1364.8 872.8,1407.5 981.3,1381.8 1089.2,1373.4" fill="none" stroke="#000" stroke-width="3" stroke-linejoin="round" />
<circle cx="764.6" cy="1364.8" r="5.7" fill="#fff" stroke="#000" stroke-width="2.6"/>
<circle cx="872.8" cy="1407.5" r="5.7" fill="#fff" stroke="#000" stroke-width="2.6"/>
<circle cx="981.3" cy="1381.8" r="5.7" fill="#fff" stroke="#000" stroke-width="2.6"/>
<circle cx="1089.2" cy="1373.4" r="5.7" fill="#fff" stroke="#000" stroke-width="2.6"/>
<polyline points="764.6,1398.6 872.8,1355.4 981.3,1448.2 1089.2,1385.4" fill="none" stroke="#000" stroke-width="3" stroke-linejoin="round" />
<path d="M764.6,1405.8 L771.1,1393.7 L758.1,1393.7Z" fill="#fff" stroke="#000" stroke-width="2.6"/>
<path d="M872.8,1362.7 L879.3,1350.5 L866.3,1350.5Z" fill="#fff" stroke="#000" stroke-width="2.6"/>
<path d="M981.3,1455.5 L987.8,1443.3 L974.8,1443.3Z" fill="#fff" stroke="#000" stroke-width="2.6"/>
<path d="M1089.2,1392.6 L1095.7,1380.5 L1082.7,1380.5Z" fill="#fff" stroke="#000" stroke-width="2.6"/>
<polyline points="764.6,1450.4 872.8,1443.4 981.3,1437.9 1089.2,1416.8" fill="none" stroke="#119a11" stroke-width="3" stroke-linejoin="round" />
<path d="M764.6,1442.9 L772.1,1450.4 L764.6,1457.9 L757.1,1450.4Z" fill="#119a11"/>
<path d="M872.8,1435.9 L880.3,1443.4 L872.8,1450.9 L865.3,1443.4Z" fill="#119a11"/>
<path d="M981.3,1430.4 L988.8,1437.9 L981.3,1445.4 L973.8,1437.9Z" fill="#119a11"/>
<path d="M1089.2,1409.3 L1096.7,1416.8 L1089.2,1424.3 L1081.7,1416.8Z" fill="#119a11"/>
<polyline points="764.6,1262.4 872.8,1361.9 981.3,1411.0 1089.2,1411.0" fill="none" stroke="#7030a0" stroke-width="3" stroke-linejoin="round" />
<path d="M764.6,1255.1 L771.1,1267.3 L758.1,1267.3Z" fill="#7030a0"/>
<path d="M872.8,1354.6 L879.3,1366.8 L866.3,1366.8Z" fill="#7030a0"/>
<path d="M981.3,1403.8 L987.8,1416.0 L974.8,1416.0Z" fill="#7030a0"/>
<path d="M1089.2,1403.8 L1095.7,1416.0 L1082.7,1416.0Z" fill="#7030a0"/>
<line x1="764.6" y1="1227.6" x2="764.6" y2="1279.2" stroke="#0000ff" stroke-width="3" />
<line x1="757.6" y1="1227.6" x2="771.6" y2="1227.6" stroke="#0000ff" stroke-width="3" />
<line x1="757.6" y1="1279.2" x2="771.6" y2="1279.2" stroke="#0000ff" stroke-width="3" />
<line x1="981.3" y1="1352.3" x2="981.3" y2="1437.4" stroke="#0000ff" stroke-width="3" />
<line x1="974.3" y1="1352.3" x2="988.3" y2="1352.3" stroke="#0000ff" stroke-width="3" />
<line x1="974.3" y1="1437.4" x2="988.3" y2="1437.4" stroke="#0000ff" stroke-width="3" />
<polyline points="764.6,1253.3 872.8,1355.4 981.3,1390.9 1089.2,1405.8" fill="none" stroke="#0000ff" stroke-width="3" stroke-linejoin="round" />
<rect x="758.1" y="1246.8" width="13.0" height="13.0" fill="#0000ff"/>
<rect x="866.3" y="1348.9" width="13.0" height="13.0" fill="#0000ff"/>
<rect x="974.8" y="1384.4" width="13.0" height="13.0" fill="#0000ff"/>
<rect x="1082.7" y="1399.3" width="13.0" height="13.0" fill="#0000ff"/>
<polyline points="764.6,1435.5 872.8,1449.4 981.3,1449.4 1089.2,1458.0" fill="none" stroke="#ff0000" stroke-width="3" stroke-linejoin="round" />
<circle cx="764.6" cy="1435.5" r="6.5" fill="#ff0000"/>
<circle cx="872.8" cy="1449.4" r="6.5" fill="#ff0000"/>
<circle cx="981.3" cy="1449.4" r="6.5" fill="#ff0000"/>
<circle cx="1089.2" cy="1458.0" r="6.5" fill="#ff0000"/>
<line x1="1154.0" y1="1200.0" x2="1183.7" y2="1200.0" stroke="#ff0000" stroke-width="3" />
<circle cx="1168.8" cy="1200.0" r="6.5" fill="#ff0000"/>
<text x="1202.0" y="1207.6" font-size="24.3" textLength="63.4" lengthAdjust="spacingAndGlyphs" >PURA</text>
<line x1="1154.0" y1="1231.0" x2="1183.7" y2="1231.0" stroke="#0000ff" stroke-width="3" />
<rect x="1162.3" y="1224.5" width="13.0" height="13.0" fill="#0000ff"/>
<text x="1202.0" y="1238.6" font-size="24.3" textLength="75.0" lengthAdjust="spacingAndGlyphs" >CDC27</text>
<line x1="1154.0" y1="1263.0" x2="1183.7" y2="1263.0" stroke="#7030a0" stroke-width="3" />
<path d="M1168.8,1255.7 L1175.3,1267.9 L1162.3,1267.9Z" fill="#7030a0"/>
<text x="1202.0" y="1270.6" font-size="24.3" textLength="70.0" lengthAdjust="spacingAndGlyphs" >STAG1</text>
<line x1="1154.0" y1="1292.0" x2="1183.7" y2="1292.0" stroke="#119a11" stroke-width="3" />
<path d="M1168.8,1284.5 L1176.3,1292.0 L1168.8,1299.5 L1161.3,1292.0Z" fill="#119a11"/>
<text x="1202.0" y="1299.6" font-size="24.3" textLength="47.0" lengthAdjust="spacingAndGlyphs" >TTK</text>
<line x1="1154.0" y1="1321.6" x2="1183.7" y2="1321.6" stroke="#000" stroke-width="3" />
<path d="M1168.8,1314.1 L1176.3,1321.6 L1168.8,1329.1 L1161.3,1321.6Z" fill="#fff" stroke="#000" stroke-width="2.6"/>
<text x="1202.0" y="1329.2" font-size="24.3" textLength="89.4" lengthAdjust="spacingAndGlyphs" >MAD2L1</text>
<line x1="1154.0" y1="1351.0" x2="1183.7" y2="1351.0" stroke="#000" stroke-width="3" />
<path d="M1168.8,1343.7 L1175.3,1355.9 L1162.3,1355.9Z" fill="#000"/>
<text x="1202.0" y="1358.6" font-size="24.3" textLength="64.0" lengthAdjust="spacingAndGlyphs" >PLK-1</text>
<line x1="1154.0" y1="1381.0" x2="1183.7" y2="1381.0" stroke="#000" stroke-width="3" />
<rect x="1163.6" y="1375.8" width="10.4" height="10.4" fill="#fff" stroke="#000" stroke-width="2.6"/>
<text x="1202.0" y="1388.6" font-size="24.3" textLength="59.0" lengthAdjust="spacingAndGlyphs" >BUB1</text>
<line x1="1154.0" y1="1411.0" x2="1183.7" y2="1411.0" stroke="#000" stroke-width="3" />
<circle cx="1168.8" cy="1411.0" r="5.7" fill="#fff" stroke="#000" stroke-width="2.6"/>
<text x="1202.0" y="1418.6" font-size="24.3" textLength="81.0" lengthAdjust="spacingAndGlyphs" >SMC1A</text>
<line x1="1154.0" y1="1441.6" x2="1183.7" y2="1441.6" stroke="#000" stroke-width="3" />
<path d="M1168.8,1448.9 L1175.3,1436.7 L1162.3,1436.7Z" fill="#fff" stroke="#000" stroke-width="2.6"/>
<text x="1202.0" y="1449.2" font-size="24.3" textLength="61.0" lengthAdjust="spacingAndGlyphs" >CDK1</text>
<line x1="1470.8" y1="381.8" x2="1470.8" y2="656.6" stroke="#000" stroke-width="2.2" />
<line x1="1457.3" y1="655.6" x2="1470.8" y2="655.6" stroke="#000" stroke-width="2.2" />
<text x="1453.8" y="662.9" font-size="20.4" font-weight="bold" text-anchor="end" textLength="13.0" lengthAdjust="spacingAndGlyphs" >0</text>
<line x1="1457.3" y1="587.4" x2="1470.8" y2="587.4" stroke="#000" stroke-width="2.2" />
<text x="1381.52" y="594.50" font-size="20.76" font-weight="bold" textLength="60.57" lengthAdjust="spacingAndGlyphs" >1×10</text>
<text x="1444.74" y="589.10" font-size="14.79" textLength="9.38" lengthAdjust="spacingAndGlyphs" >4</text>
<line x1="1457.3" y1="519.2" x2="1470.8" y2="519.2" stroke="#000" stroke-width="2.2" />
<text x="1382.37" y="526.30" font-size="20.76" font-weight="bold" textLength="59.70" lengthAdjust="spacingAndGlyphs" >2×10</text>
<text x="1444.74" y="520.90" font-size="14.79" textLength="9.38" lengthAdjust="spacingAndGlyphs" >4</text>
<line x1="1457.3" y1="451.0" x2="1470.8" y2="451.0" stroke="#000" stroke-width="2.2" />
<text x="1382.79" y="458.10" font-size="20.76" font-weight="bold" textLength="59.28" lengthAdjust="spacingAndGlyphs" >3×10</text>
<text x="1444.74" y="452.70" font-size="14.79" textLength="9.38" lengthAdjust="spacingAndGlyphs" >4</text>
<line x1="1457.3" y1="382.8" x2="1470.8" y2="382.8" stroke="#000" stroke-width="2.2" />
<text x="1383.20" y="389.90" font-size="20.76" font-weight="bold" textLength="58.86" lengthAdjust="spacingAndGlyphs" >4×10</text>
<text x="1444.74" y="384.50" font-size="14.79" textLength="9.38" lengthAdjust="spacingAndGlyphs" >4</text>
<line x1="1457.3" y1="655.6" x2="1819.8" y2="655.6" stroke="#000" stroke-width="2.2" />
<line x1="1470.8" y1="655.6" x2="1470.8" y2="665.6" stroke="#000" stroke-width="2.2" />
<text x="1470.8" y="687.6" font-size="18.5" font-weight="bold" text-anchor="middle" textLength="12.4" lengthAdjust="spacingAndGlyphs" >0</text>
<line x1="1514.4" y1="655.6" x2="1514.4" y2="665.6" stroke="#000" stroke-width="2.2" />
<text x="1514.4" y="687.6" font-size="18.5" font-weight="bold" text-anchor="middle" textLength="12.4" lengthAdjust="spacingAndGlyphs" >1</text>
<line x1="1558.0" y1="655.6" x2="1558.0" y2="665.6" stroke="#000" stroke-width="2.2" />
<text x="1558.0" y="687.6" font-size="18.5" font-weight="bold" text-anchor="middle" textLength="12.4" lengthAdjust="spacingAndGlyphs" >2</text>
<line x1="1601.6" y1="655.6" x2="1601.6" y2="665.6" stroke="#000" stroke-width="2.2" />
<text x="1601.6" y="687.6" font-size="18.5" font-weight="bold" text-anchor="middle" textLength="12.4" lengthAdjust="spacingAndGlyphs" >3</text>
<line x1="1645.2" y1="655.6" x2="1645.2" y2="665.6" stroke="#000" stroke-width="2.2" />
<text x="1645.2" y="687.6" font-size="18.5" font-weight="bold" text-anchor="middle" textLength="12.4" lengthAdjust="spacingAndGlyphs" >4</text>
<line x1="1688.8" y1="655.6" x2="1688.8" y2="665.6" stroke="#000" stroke-width="2.2" />
<text x="1688.8" y="687.6" font-size="18.5" font-weight="bold" text-anchor="middle" textLength="12.4" lengthAdjust="spacingAndGlyphs" >5</text>
<line x1="1732.4" y1="655.6" x2="1732.4" y2="665.6" stroke="#000" stroke-width="2.2" />
<text x="1732.4" y="687.6" font-size="18.5" font-weight="bold" text-anchor="middle" textLength="12.4" lengthAdjust="spacingAndGlyphs" >6</text>
<line x1="1776.0" y1="655.6" x2="1776.0" y2="665.6" stroke="#000" stroke-width="2.2" />
<text x="1776.0" y="687.6" font-size="18.5" font-weight="bold" text-anchor="middle" textLength="12.4" lengthAdjust="spacingAndGlyphs" >7</text>
<line x1="1819.6" y1="655.6" x2="1819.6" y2="665.6" stroke="#000" stroke-width="2.2" />
<text x="1819.6" y="687.6" font-size="18.5" font-weight="bold" text-anchor="middle" textLength="12.4" lengthAdjust="spacingAndGlyphs" >8</text>
<text x="1612.4" y="719.7" font-size="21.3" font-weight="bold" textLength="65.6" lengthAdjust="spacingAndGlyphs" >Days</text>
<text transform="translate(1363.00,588.80) rotate(-90)" x="-0.72" y="0" font-size="28.77" font-weight="bold" textLength="145.14" lengthAdjust="spacingAndGlyphs">Cells number</text>
<text x="1578.7" y="346.7" font-size="24.5" font-weight="bold" textLength="134.0" lengthAdjust="spacingAndGlyphs" >CRISPRi</text>
<text x="1316.50" y="379.90" font-size="53.19" font-weight="bold" textLength="25.61" lengthAdjust="spacingAndGlyphs" >E</text>
<text x="1788.46" y="530.50" font-size="32.00" textLength="13.54" lengthAdjust="spacingAndGlyphs" >*</text>
<text x="1803.61" y="530.50" font-size="32.00" textLength="13.54" lengthAdjust="spacingAndGlyphs" >*</text>
<text x="1818.76" y="530.50" font-size="32.00" textLength="13.54" lengthAdjust="spacingAndGlyphs" >*</text>
<text x="1788.46" y="550.50" font-size="32.00" textLength="13.54" lengthAdjust="spacingAndGlyphs" >*</text>
<text x="1803.61" y="550.50" font-size="32.00" textLength="13.54" lengthAdjust="spacingAndGlyphs" >*</text>
<text x="1818.76" y="550.50" font-size="32.00" textLength="13.54" lengthAdjust="spacingAndGlyphs" >*</text>
<line x1="1558.0" y1="613.3" x2="1558.0" y2="635.1" stroke="#ff0000" stroke-width="2.2" />
<line x1="1551.0" y1="613.3" x2="1565.0" y2="613.3" stroke="#ff0000" stroke-width="2.2" />
<line x1="1551.0" y1="635.1" x2="1565.0" y2="635.1" stroke="#ff0000" stroke-width="2.2" />
<line x1="1601.6" y1="614.7" x2="1601.6" y2="630.4" stroke="#ff0000" stroke-width="2.2" />
<line x1="1594.6" y1="614.7" x2="1608.6" y2="614.7" stroke="#ff0000" stroke-width="2.2" />
<line x1="1594.6" y1="630.4" x2="1608.6" y2="630.4" stroke="#ff0000" stroke-width="2.2" />
<line x1="1645.2" y1="604.5" x2="1645.2" y2="617.4" stroke="#ff0000" stroke-width="2.2" />
<line x1="1638.2" y1="604.5" x2="1652.2" y2="604.5" stroke="#ff0000" stroke-width="2.2" />
<line x1="1638.2" y1="617.4" x2="1652.2" y2="617.4" stroke="#ff0000" stroke-width="2.2" />
<line x1="1688.8" y1="587.4" x2="1688.8" y2="601.7" stroke="#ff0000" stroke-width="2.2" />
<line x1="1681.8" y1="587.4" x2="1695.8" y2="587.4" stroke="#ff0000" stroke-width="2.2" />
<line x1="1681.8" y1="601.7" x2="1695.8" y2="601.7" stroke="#ff0000" stroke-width="2.2" />
<line x1="1732.4" y1="560.1" x2="1732.4" y2="596.3" stroke="#ff0000" stroke-width="2.2" />
<line x1="1725.4" y1="560.1" x2="1739.4" y2="560.1" stroke="#ff0000" stroke-width="2.2" />
<line x1="1725.4" y1="596.3" x2="1739.4" y2="596.3" stroke="#ff0000" stroke-width="2.2" />
<line x1="1776.0" y1="528.1" x2="1776.0" y2="552.6" stroke="#ff0000" stroke-width="2.2" />
<line x1="1769.0" y1="528.1" x2="1783.0" y2="528.1" stroke="#ff0000" stroke-width="2.2" />
<line x1="1769.0" y1="552.6" x2="1783.0" y2="552.6" stroke="#ff0000" stroke-width="2.2" />
<polyline points="1514.4,621.5 1558.0,622.2 1601.6,617.4 1645.2,609.9 1688.8,596.3 1732.4,578.5 1776.0,535.6" fill="none" stroke="#ff0000" stroke-width="2.2" stroke-linejoin="round" />
<path d="M1507.2,616.3 H1521.6 L1514.4,628.0 Z" fill="#ff0000"/>
<path d="M1550.8,617.0 H1565.2 L1558.0,628.7 Z" fill="#ff0000"/>
<path d="M1594.4,612.2 H1608.8 L1601.6,623.9 Z" fill="#ff0000"/>
<path d="M1638.0,604.7 H1652.4 L1645.2,616.4 Z" fill="#ff0000"/>
<path d="M1681.6,591.1 H1696.0 L1688.8,602.8 Z" fill="#ff0000"/>
<path d="M1725.2,573.3 H1739.6 L1732.4,585.0 Z" fill="#ff0000"/>
<path d="M1768.8,530.4 H1783.2 L1776.0,542.1 Z" fill="#ff0000"/>
<line x1="1558.0" y1="601.0" x2="1558.0" y2="638.6" stroke="#0000ff" stroke-width="2.2" />
<line x1="1551.0" y1="601.0" x2="1565.0" y2="601.0" stroke="#0000ff" stroke-width="2.2" />
<line x1="1551.0" y1="638.6" x2="1565.0" y2="638.6" stroke="#0000ff" stroke-width="2.2" />
<line x1="1601.6" y1="607.9" x2="1601.6" y2="633.8" stroke="#0000ff" stroke-width="2.2" />
<line x1="1594.6" y1="607.9" x2="1608.6" y2="607.9" stroke="#0000ff" stroke-width="2.2" />
<line x1="1594.6" y1="633.8" x2="1608.6" y2="633.8" stroke="#0000ff" stroke-width="2.2" />
<line x1="1645.2" y1="599.0" x2="1645.2" y2="622.9" stroke="#0000ff" stroke-width="2.2" />
<line x1="1638.2" y1="599.0" x2="1652.2" y2="599.0" stroke="#0000ff" stroke-width="2.2" />
<line x1="1638.2" y1="622.9" x2="1652.2" y2="622.9" stroke="#0000ff" stroke-width="2.2" />
<line x1="1688.8" y1="585.4" x2="1688.8" y2="605.1" stroke="#0000ff" stroke-width="2.2" />
<line x1="1681.8" y1="585.4" x2="1695.8" y2="585.4" stroke="#0000ff" stroke-width="2.2" />
<line x1="1681.8" y1="605.1" x2="1695.8" y2="605.1" stroke="#0000ff" stroke-width="2.2" />
<line x1="1732.4" y1="555.3" x2="1732.4" y2="579.2" stroke="#0000ff" stroke-width="2.2" />
<line x1="1725.4" y1="555.3" x2="1739.4" y2="555.3" stroke="#0000ff" stroke-width="2.2" />
<line x1="1725.4" y1="579.2" x2="1739.4" y2="579.2" stroke="#0000ff" stroke-width="2.2" />
<line x1="1776.0" y1="491.9" x2="1776.0" y2="545.1" stroke="#0000ff" stroke-width="2.2" />
<line x1="1769.0" y1="491.9" x2="1783.0" y2="491.9" stroke="#0000ff" stroke-width="2.2" />
<line x1="1769.0" y1="545.1" x2="1783.0" y2="545.1" stroke="#0000ff" stroke-width="2.2" />
<polyline points="1514.4,621.5 1558.0,620.8 1601.6,618.8 1645.2,611.3 1688.8,595.6 1732.4,567.6 1776.0,518.5" fill="none" stroke="#0000ff" stroke-width="2.2" stroke-linejoin="round" />
<ellipse cx="1514.4" cy="621.5" rx="6.8" ry="5.6" fill="#0000ff"/>
<ellipse cx="1558.0" cy="620.8" rx="6.8" ry="5.6" fill="#0000ff"/>
<ellipse cx="1601.6" cy="618.8" rx="6.8" ry="5.6" fill="#0000ff"/>
<ellipse cx="1645.2" cy="611.3" rx="6.8" ry="5.6" fill="#0000ff"/>
<ellipse cx="1688.8" cy="595.6" rx="6.8" ry="5.6" fill="#0000ff"/>
<ellipse cx="1732.4" cy="567.6" rx="6.8" ry="5.6" fill="#0000ff"/>
<ellipse cx="1776.0" cy="518.5" rx="6.8" ry="5.6" fill="#0000ff"/>
<line x1="1558.0" y1="612.0" x2="1558.0" y2="631.0" stroke="#000" stroke-width="2.2" />
<line x1="1551.0" y1="612.0" x2="1565.0" y2="612.0" stroke="#000" stroke-width="2.2" />
<line x1="1551.0" y1="631.0" x2="1565.0" y2="631.0" stroke="#000" stroke-width="2.2" />
<line x1="1601.6" y1="607.9" x2="1601.6" y2="618.1" stroke="#000" stroke-width="2.2" />
<line x1="1594.6" y1="607.9" x2="1608.6" y2="607.9" stroke="#000" stroke-width="2.2" />
<line x1="1594.6" y1="618.1" x2="1608.6" y2="618.1" stroke="#000" stroke-width="2.2" />
<line x1="1645.2" y1="583.3" x2="1645.2" y2="599.7" stroke="#000" stroke-width="2.2" />
<line x1="1638.2" y1="583.3" x2="1652.2" y2="583.3" stroke="#000" stroke-width="2.2" />
<line x1="1638.2" y1="599.7" x2="1652.2" y2="599.7" stroke="#000" stroke-width="2.2" />
<line x1="1688.8" y1="546.5" x2="1688.8" y2="568.3" stroke="#000" stroke-width="2.2" />
<line x1="1681.8" y1="546.5" x2="1695.8" y2="546.5" stroke="#000" stroke-width="2.2" />
<line x1="1681.8" y1="568.3" x2="1695.8" y2="568.3" stroke="#000" stroke-width="2.2" />
<line x1="1732.4" y1="485.1" x2="1732.4" y2="528.7" stroke="#000" stroke-width="2.2" />
<line x1="1725.4" y1="485.1" x2="1739.4" y2="485.1" stroke="#000" stroke-width="2.2" />
<line x1="1725.4" y1="528.7" x2="1739.4" y2="528.7" stroke="#000" stroke-width="2.2" />
<line x1="1776.0" y1="415.5" x2="1776.0" y2="480.3" stroke="#000" stroke-width="2.2" />
<line x1="1769.0" y1="415.5" x2="1783.0" y2="415.5" stroke="#000" stroke-width="2.2" />
<line x1="1769.0" y1="480.3" x2="1783.0" y2="480.3" stroke="#000" stroke-width="2.2" />
<polyline points="1514.4,621.5 1558.0,621.5 1601.6,612.0 1645.2,590.8 1688.8,557.4 1732.4,506.9 1776.0,447.6" fill="none" stroke="#000" stroke-width="2.2" stroke-linejoin="round" />
<rect x="1506.9" y="615.3" width="15" height="12.4" fill="#000"/>
<rect x="1550.5" y="615.3" width="15" height="12.4" fill="#000"/>
<rect x="1594.1" y="605.8" width="15" height="12.4" fill="#000"/>
<rect x="1637.7" y="584.6" width="15" height="12.4" fill="#000"/>
<rect x="1681.3" y="551.2" width="15" height="12.4" fill="#000"/>
<rect x="1724.9" y="500.7" width="15" height="12.4" fill="#000"/>
<rect x="1768.5" y="441.4" width="15" height="12.4" fill="#000"/>
<line x1="1480.2" y1="400.8" x2="1517.8" y2="400.8" stroke="#000" stroke-width="2.2" />
<rect x="1491.5" y="394.6" width="15" height="12.4" fill="#000"/>
<text x="1540.6" y="408.1" font-size="23.5" textLength="121.3" lengthAdjust="spacingAndGlyphs" >Scramble</text>
<line x1="1480.2" y1="437.0" x2="1517.8" y2="437.0" stroke="#0000ff" stroke-width="2.2" />
<ellipse cx="1499.0" cy="437.0" rx="6.8" ry="5.6" fill="#0000ff"/>
<text x="1540.6" y="444.3" font-size="23.5" textLength="102.0" lengthAdjust="spacingAndGlyphs" >sgRNA1</text>
<line x1="1480.2" y1="473.0" x2="1517.8" y2="473.0" stroke="#ff0000" stroke-width="2.2" />
<path d="M1491.8,467.8 H1506.2 L1499.0,479.5 Z" fill="#ff0000"/>
<text x="1540.6" y="480.3" font-size="23.5" textLength="103.6" lengthAdjust="spacingAndGlyphs" >sgRNA2</text>
<line x1="1479.4" y1="1180.0" x2="1479.4" y2="1448.4" stroke="#000" stroke-width="2.2" />
<line x1="1465.9" y1="1447.4" x2="1479.4" y2="1447.4" stroke="#000" stroke-width="2.2" />
<text x="1462.4" y="1454.7" font-size="20.4" font-weight="bold" text-anchor="end" textLength="13.0" lengthAdjust="spacingAndGlyphs" >0</text>
<line x1="1465.9" y1="1380.8" x2="1479.4" y2="1380.8" stroke="#000" stroke-width="2.2" />
<text x="1390.12" y="1387.90" font-size="20.76" font-weight="bold" textLength="60.57" lengthAdjust="spacingAndGlyphs" >1×10</text>
<text x="1453.34" y="1382.50" font-size="14.79" textLength="9.38" lengthAdjust="spacingAndGlyphs" >4</text>
<line x1="1465.9" y1="1314.2" x2="1479.4" y2="1314.2" stroke="#000" stroke-width="2.2" />
<text x="1390.97" y="1321.30" font-size="20.76" font-weight="bold" textLength="59.70" lengthAdjust="spacingAndGlyphs" >2×10</text>
<text x="1453.34" y="1315.90" font-size="14.79" textLength="9.38" lengthAdjust="spacingAndGlyphs" >4</text>
<line x1="1465.9" y1="1247.6" x2="1479.4" y2="1247.6" stroke="#000" stroke-width="2.2" />
<text x="1391.39" y="1254.70" font-size="20.76" font-weight="bold" textLength="59.28" lengthAdjust="spacingAndGlyphs" >3×10</text>
<text x="1453.34" y="1249.30" font-size="14.79" textLength="9.38" lengthAdjust="spacingAndGlyphs" >4</text>
<line x1="1465.9" y1="1181.0" x2="1479.4" y2="1181.0" stroke="#000" stroke-width="2.2" />
<text x="1391.80" y="1188.10" font-size="20.76" font-weight="bold" textLength="58.86" lengthAdjust="spacingAndGlyphs" >4×10</text>
<text x="1453.34" y="1182.70" font-size="14.79" textLength="9.38" lengthAdjust="spacingAndGlyphs" >4</text>
<line x1="1465.9" y1="1447.4" x2="1824.6" y2="1447.4" stroke="#000" stroke-width="2.2" />
<line x1="1479.4" y1="1447.4" x2="1479.4" y2="1457.4" stroke="#000" stroke-width="2.2" />
<text x="1479.4" y="1479.4" font-size="18.5" font-weight="bold" text-anchor="middle" textLength="12.4" lengthAdjust="spacingAndGlyphs" >0</text>
<line x1="1522.6" y1="1447.4" x2="1522.6" y2="1457.4" stroke="#000" stroke-width="2.2" />
<text x="1522.6" y="1479.4" font-size="18.5" font-weight="bold" text-anchor="middle" textLength="12.4" lengthAdjust="spacingAndGlyphs" >1</text>
<line x1="1565.7" y1="1447.4" x2="1565.7" y2="1457.4" stroke="#000" stroke-width="2.2" />
<text x="1565.7" y="1479.4" font-size="18.5" font-weight="bold" text-anchor="middle" textLength="12.4" lengthAdjust="spacingAndGlyphs" >2</text>
<line x1="1608.9" y1="1447.4" x2="1608.9" y2="1457.4" stroke="#000" stroke-width="2.2" />
<text x="1608.9" y="1479.4" font-size="18.5" font-weight="bold" text-anchor="middle" textLength="12.4" lengthAdjust="spacingAndGlyphs" >3</text>
<line x1="1652.0" y1="1447.4" x2="1652.0" y2="1457.4" stroke="#000" stroke-width="2.2" />
<text x="1652.0" y="1479.4" font-size="18.5" font-weight="bold" text-anchor="middle" textLength="12.4" lengthAdjust="spacingAndGlyphs" >4</text>
<line x1="1695.2" y1="1447.4" x2="1695.2" y2="1457.4" stroke="#000" stroke-width="2.2" />
<text x="1695.2" y="1479.4" font-size="18.5" font-weight="bold" text-anchor="middle" textLength="12.4" lengthAdjust="spacingAndGlyphs" >5</text>
<line x1="1738.3" y1="1447.4" x2="1738.3" y2="1457.4" stroke="#000" stroke-width="2.2" />
<text x="1738.3" y="1479.4" font-size="18.5" font-weight="bold" text-anchor="middle" textLength="12.4" lengthAdjust="spacingAndGlyphs" >6</text>
<line x1="1781.5" y1="1447.4" x2="1781.5" y2="1457.4" stroke="#000" stroke-width="2.2" />
<text x="1781.5" y="1479.4" font-size="18.5" font-weight="bold" text-anchor="middle" textLength="12.4" lengthAdjust="spacingAndGlyphs" >7</text>
<line x1="1824.6" y1="1447.4" x2="1824.6" y2="1457.4" stroke="#000" stroke-width="2.2" />
<text x="1824.6" y="1479.4" font-size="18.5" font-weight="bold" text-anchor="middle" textLength="12.4" lengthAdjust="spacingAndGlyphs" >8</text>
<text x="1620.0" y="1512.0" font-size="21.3" font-weight="bold" textLength="64.6" lengthAdjust="spacingAndGlyphs" >Days</text>
<text transform="translate(1373.40,1382.70) rotate(-90)" x="-0.69" y="0" font-size="31.10" font-weight="bold" textLength="140.81" lengthAdjust="spacingAndGlyphs">Cells number</text>
<text x="1581.5" y="1146.7" font-size="24.5" font-weight="bold" textLength="142.5" lengthAdjust="spacingAndGlyphs" >CRISPRa</text>
<text x="1314.80" y="1189.60" font-size="54.61" font-weight="bold" textLength="17.91" lengthAdjust="spacingAndGlyphs" >J</text>
<text x="1795.56" y="1233.70" font-size="32.00" textLength="13.54" lengthAdjust="spacingAndGlyphs" >*</text>
<text x="1811.26" y="1233.70" font-size="32.00" textLength="13.54" lengthAdjust="spacingAndGlyphs" >*</text>
<text x="1826.96" y="1233.70" font-size="32.00" textLength="13.54" lengthAdjust="spacingAndGlyphs" >*</text>
<text x="1795.56" y="1253.50" font-size="32.00" textLength="13.54" lengthAdjust="spacingAndGlyphs" >*</text>
<text x="1811.26" y="1253.50" font-size="32.00" textLength="13.54" lengthAdjust="spacingAndGlyphs" >*</text>
<text x="1826.96" y="1253.50" font-size="32.00" textLength="13.54" lengthAdjust="spacingAndGlyphs" >*</text>
<line x1="1565.7" y1="1406.1" x2="1565.7" y2="1414.1" stroke="#ff0000" stroke-width="2.2" />
<line x1="1558.7" y1="1406.1" x2="1572.7" y2="1406.1" stroke="#ff0000" stroke-width="2.2" />
<line x1="1558.7" y1="1414.1" x2="1572.7" y2="1414.1" stroke="#ff0000" stroke-width="2.2" />
<line x1="1608.9" y1="1388.8" x2="1608.9" y2="1398.8" stroke="#ff0000" stroke-width="2.2" />
<line x1="1601.9" y1="1388.8" x2="1615.9" y2="1388.8" stroke="#ff0000" stroke-width="2.2" />
<line x1="1601.9" y1="1398.8" x2="1615.9" y2="1398.8" stroke="#ff0000" stroke-width="2.2" />
<line x1="1652.0" y1="1347.5" x2="1652.0" y2="1374.1" stroke="#ff0000" stroke-width="2.2" />
<line x1="1645.0" y1="1347.5" x2="1659.0" y2="1347.5" stroke="#ff0000" stroke-width="2.2" />
<line x1="1645.0" y1="1374.1" x2="1659.0" y2="1374.1" stroke="#ff0000" stroke-width="2.2" />
<line x1="1695.2" y1="1306.2" x2="1695.2" y2="1338.2" stroke="#ff0000" stroke-width="2.2" />
<line x1="1688.2" y1="1306.2" x2="1702.2" y2="1306.2" stroke="#ff0000" stroke-width="2.2" />
<line x1="1688.2" y1="1338.2" x2="1702.2" y2="1338.2" stroke="#ff0000" stroke-width="2.2" />
<line x1="1738.3" y1="1255.6" x2="1738.3" y2="1308.9" stroke="#ff0000" stroke-width="2.2" />
<line x1="1731.3" y1="1255.6" x2="1745.3" y2="1255.6" stroke="#ff0000" stroke-width="2.2" />
<line x1="1731.3" y1="1308.9" x2="1745.3" y2="1308.9" stroke="#ff0000" stroke-width="2.2" />
<line x1="1781.5" y1="1199.6" x2="1781.5" y2="1237.6" stroke="#ff0000" stroke-width="2.2" />
<line x1="1774.5" y1="1199.6" x2="1788.5" y2="1199.6" stroke="#ff0000" stroke-width="2.2" />
<line x1="1774.5" y1="1237.6" x2="1788.5" y2="1237.6" stroke="#ff0000" stroke-width="2.2" />
<polyline points="1522.6,1414.1 1565.7,1410.1 1608.9,1392.8 1652.0,1360.2 1695.2,1322.2 1738.3,1282.2 1781.5,1219.0" fill="none" stroke="#ff0000" stroke-width="2.2" stroke-linejoin="round" />
<path d="M1515.4,1408.9 H1529.8 L1522.6,1420.6 Z" fill="#ff0000"/>
<path d="M1558.5,1404.9 H1572.9 L1565.7,1416.6 Z" fill="#ff0000"/>
<path d="M1601.7,1387.6 H1616.1 L1608.9,1399.3 Z" fill="#ff0000"/>
<path d="M1644.8,1355.0 H1659.2 L1652.0,1366.7 Z" fill="#ff0000"/>
<path d="M1688.0,1317.0 H1702.4 L1695.2,1328.7 Z" fill="#ff0000"/>
<path d="M1731.1,1277.0 H1745.5 L1738.3,1288.7 Z" fill="#ff0000"/>
<path d="M1774.2,1213.8 H1788.7 L1781.5,1225.5 Z" fill="#ff0000"/>
<line x1="1565.7" y1="1405.4" x2="1565.7" y2="1423.4" stroke="#0000ff" stroke-width="2.2" />
<line x1="1558.7" y1="1405.4" x2="1572.7" y2="1405.4" stroke="#0000ff" stroke-width="2.2" />
<line x1="1558.7" y1="1423.4" x2="1572.7" y2="1423.4" stroke="#0000ff" stroke-width="2.2" />
<line x1="1608.9" y1="1390.8" x2="1608.9" y2="1405.4" stroke="#0000ff" stroke-width="2.2" />
<line x1="1601.9" y1="1390.8" x2="1615.9" y2="1390.8" stroke="#0000ff" stroke-width="2.2" />
<line x1="1601.9" y1="1405.4" x2="1615.9" y2="1405.4" stroke="#0000ff" stroke-width="2.2" />
<line x1="1652.0" y1="1360.8" x2="1652.0" y2="1387.5" stroke="#0000ff" stroke-width="2.2" />
<line x1="1645.0" y1="1360.8" x2="1659.0" y2="1360.8" stroke="#0000ff" stroke-width="2.2" />
<line x1="1645.0" y1="1387.5" x2="1659.0" y2="1387.5" stroke="#0000ff" stroke-width="2.2" />
<line x1="1695.2" y1="1325.5" x2="1695.2" y2="1349.5" stroke="#0000ff" stroke-width="2.2" />
<line x1="1688.2" y1="1325.5" x2="1702.2" y2="1325.5" stroke="#0000ff" stroke-width="2.2" />
<line x1="1688.2" y1="1349.5" x2="1702.2" y2="1349.5" stroke="#0000ff" stroke-width="2.2" />
<line x1="1738.3" y1="1279.6" x2="1738.3" y2="1318.9" stroke="#0000ff" stroke-width="2.2" />
<line x1="1731.3" y1="1279.6" x2="1745.3" y2="1279.6" stroke="#0000ff" stroke-width="2.2" />
<line x1="1731.3" y1="1318.9" x2="1745.3" y2="1318.9" stroke="#0000ff" stroke-width="2.2" />
<line x1="1781.5" y1="1215.6" x2="1781.5" y2="1259.6" stroke="#0000ff" stroke-width="2.2" />
<line x1="1774.5" y1="1215.6" x2="1788.5" y2="1215.6" stroke="#0000ff" stroke-width="2.2" />
<line x1="1774.5" y1="1259.6" x2="1788.5" y2="1259.6" stroke="#0000ff" stroke-width="2.2" />
<polyline points="1522.6,1414.1 1565.7,1412.1 1608.9,1397.5 1652.0,1374.1 1695.2,1337.5 1738.3,1299.5 1781.5,1237.6" fill="none" stroke="#0000ff" stroke-width="2.2" stroke-linejoin="round" />
<ellipse cx="1522.6" cy="1414.1" rx="6.8" ry="5.6" fill="#0000ff"/>
<ellipse cx="1565.7" cy="1412.1" rx="6.8" ry="5.6" fill="#0000ff"/>
<ellipse cx="1608.9" cy="1397.5" rx="6.8" ry="5.6" fill="#0000ff"/>
<ellipse cx="1652.0" cy="1374.1" rx="6.8" ry="5.6" fill="#0000ff"/>
<ellipse cx="1695.2" cy="1337.5" rx="6.8" ry="5.6" fill="#0000ff"/>
<ellipse cx="1738.3" cy="1299.5" rx="6.8" ry="5.6" fill="#0000ff"/>
<ellipse cx="1781.5" cy="1237.6" rx="6.8" ry="5.6" fill="#0000ff"/>
<line x1="1565.7" y1="1407.4" x2="1565.7" y2="1418.8" stroke="#000" stroke-width="2.2" />
<line x1="1558.7" y1="1407.4" x2="1572.7" y2="1407.4" stroke="#000" stroke-width="2.2" />
<line x1="1558.7" y1="1418.8" x2="1572.7" y2="1418.8" stroke="#000" stroke-width="2.2" />
<line x1="1608.9" y1="1395.5" x2="1608.9" y2="1412.1" stroke="#000" stroke-width="2.2" />
<line x1="1601.9" y1="1395.5" x2="1615.9" y2="1395.5" stroke="#000" stroke-width="2.2" />
<line x1="1601.9" y1="1412.1" x2="1615.9" y2="1412.1" stroke="#000" stroke-width="2.2" />
<line x1="1652.0" y1="1378.1" x2="1652.0" y2="1395.5" stroke="#000" stroke-width="2.2" />
<line x1="1645.0" y1="1378.1" x2="1659.0" y2="1378.1" stroke="#000" stroke-width="2.2" />
<line x1="1645.0" y1="1395.5" x2="1659.0" y2="1395.5" stroke="#000" stroke-width="2.2" />
<line x1="1695.2" y1="1347.5" x2="1695.2" y2="1372.8" stroke="#000" stroke-width="2.2" />
<line x1="1688.2" y1="1347.5" x2="1702.2" y2="1347.5" stroke="#000" stroke-width="2.2" />
<line x1="1688.2" y1="1372.8" x2="1702.2" y2="1372.8" stroke="#000" stroke-width="2.2" />
<line x1="1738.3" y1="1302.9" x2="1738.3" y2="1338.8" stroke="#000" stroke-width="2.2" />
<line x1="1731.3" y1="1302.9" x2="1745.3" y2="1302.9" stroke="#000" stroke-width="2.2" />
<line x1="1731.3" y1="1338.8" x2="1745.3" y2="1338.8" stroke="#000" stroke-width="2.2" />
<line x1="1781.5" y1="1239.6" x2="1781.5" y2="1291.6" stroke="#000" stroke-width="2.2" />
<line x1="1774.5" y1="1239.6" x2="1788.5" y2="1239.6" stroke="#000" stroke-width="2.2" />
<line x1="1774.5" y1="1291.6" x2="1788.5" y2="1291.6" stroke="#000" stroke-width="2.2" />
<polyline points="1522.6,1414.1 1565.7,1413.4 1608.9,1403.4 1652.0,1386.1 1695.2,1358.8 1738.3,1320.9 1781.5,1264.9" fill="none" stroke="#000" stroke-width="2.2" stroke-linejoin="round" />
<rect x="1515.1" y="1407.9" width="15" height="12.4" fill="#000"/>
<rect x="1558.2" y="1407.2" width="15" height="12.4" fill="#000"/>
<rect x="1601.4" y="1397.2" width="15" height="12.4" fill="#000"/>
<rect x="1644.5" y="1379.9" width="15" height="12.4" fill="#000"/>
<rect x="1687.7" y="1352.6" width="15" height="12.4" fill="#000"/>
<rect x="1730.8" y="1314.7" width="15" height="12.4" fill="#000"/>
<rect x="1774.0" y="1258.7" width="15" height="12.4" fill="#000"/>
<line x1="1485.3" y1="1199.2" x2="1522.7" y2="1199.2" stroke="#000" stroke-width="2.2" />
<rect x="1496.5" y="1193.0" width="15" height="12.4" fill="#000"/>
<text x="1544.8" y="1206.5" font-size="23.5" textLength="121.3" lengthAdjust="spacingAndGlyphs" >Scramble</text>
<line x1="1485.3" y1="1234.0" x2="1522.7" y2="1234.0" stroke="#0000ff" stroke-width="2.2" />
<ellipse cx="1504.0" cy="1234.0" rx="6.8" ry="5.6" fill="#0000ff"/>
<text x="1544.8" y="1241.3" font-size="23.5" textLength="105.0" lengthAdjust="spacingAndGlyphs" >sgRNA3</text>
<line x1="1485.3" y1="1270.0" x2="1522.7" y2="1270.0" stroke="#ff0000" stroke-width="2.2" />
<path d="M1496.8,1264.8 H1511.2 L1504.0,1276.5 Z" fill="#ff0000"/>
<text x="1544.8" y="1277.3" font-size="23.5" textLength="105.0" lengthAdjust="spacingAndGlyphs" >sgRNA4</text>
</svg>
</body></html>
